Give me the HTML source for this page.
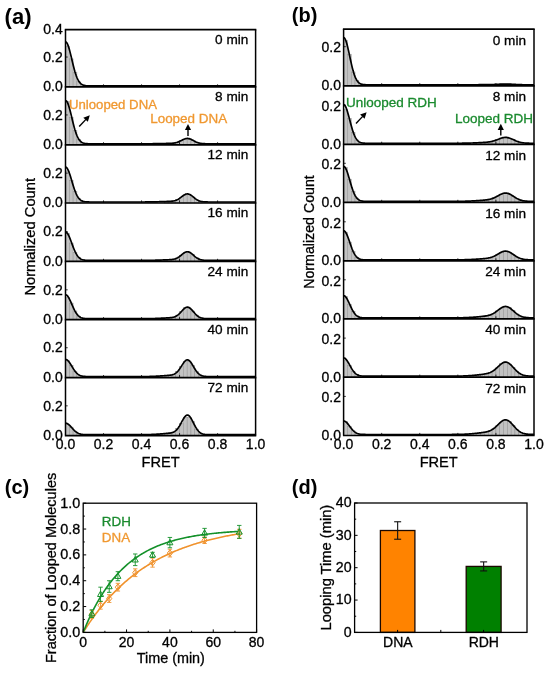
<!DOCTYPE html>
<html><head><meta charset="utf-8"><title>Figure</title>
<style>
html,body{margin:0;padding:0;background:#fff;}
body{width:550px;height:673px;overflow:hidden;}
svg{display:block;font-family:"Liberation Sans", sans-serif;will-change:transform;}
</style></head><body>
<svg width="550" height="673" viewBox="0 0 550 673">
<rect width="550" height="673" fill="#fff"/>
<g fill="#c2c2c2" stroke="#8c8c8c" stroke-width="0.45"><rect x="65.5" y="46.01" width="3.8" height="40.89"/><rect x="69.3" y="58.88" width="3.8" height="28.02"/><rect x="73.1" y="72.1" width="3.8" height="14.8"/><rect x="76.91" y="81.64" width="3.8" height="5.26"/><rect x="80.71" y="84.86" width="3.8" height="2.04"/></g>
<polyline fill="none" stroke="#000" stroke-width="1.7" stroke-linejoin="round" points="65.5,41.89 66.13,42.11 66.77,42.78 67.4,43.86 68.03,45.34 68.67,47.16 69.3,49.27 69.94,51.62 70.57,54.15 71.2,56.79 71.84,59.48 72.47,62.16 73.1,64.79 73.74,67.32 74.37,69.71 75,71.93 75.64,73.98 76.27,75.82 76.91,77.47 77.54,78.92 78.17,80.18 78.81,81.26 79.44,82.17 80.07,82.94 80.71,83.57 81.34,84.09 81.98,84.5 82.61,84.83 83.24,85.09 83.88,85.3 84.51,85.45 85.14,85.57 85.78,85.66 86.41,85.73 87.04,85.78 87.68,85.81 88.31,85.84 88.95,85.86 89.58,85.87 90.21,85.88 90.85,85.89 91.48,85.89 92.11,85.89 92.75,85.9 93.38,85.9 94.02,85.9 94.65,85.9 95.28,85.9 95.92,85.9 96.55,85.9 97.18,85.9 97.82,85.9 98.45,85.9 99.08,85.9 99.72,85.9 100.35,85.9 100.99,85.9 101.62,85.9 102.25,85.9 102.89,85.9 103.52,85.9 104.15,85.9 104.79,85.9 105.42,85.9 106.05,85.9 106.69,85.9 107.32,85.9 107.96,85.9 108.59,85.9 109.22,85.9 109.86,85.9 110.49,85.9 111.12,85.9 111.76,85.9 112.39,85.9 113.03,85.9 113.66,85.9 114.29,85.9 114.93,85.9 115.56,85.9 116.19,85.9 116.83,85.9 117.46,85.9 118.09,85.9 118.73,85.9 119.36,85.9 120,85.9 120.63,85.9 121.26,85.9 121.9,85.9 122.53,85.9 123.16,85.9 123.8,85.9 124.43,85.9 125.06,85.9 125.7,85.9 126.33,85.9 126.97,85.9 127.6,85.9 128.23,85.9 128.87,85.9 129.5,85.9 130.13,85.9 130.77,85.9 131.4,85.9 132.03,85.9 132.67,85.9 133.3,85.9 133.94,85.9 134.57,85.9 135.2,85.9 135.84,85.9 136.47,85.9 137.1,85.9 137.74,85.9 138.37,85.9 139.01,85.9 139.64,85.9 140.27,85.9 140.91,85.9 141.54,85.9 142.17,85.9 142.81,85.9 143.44,85.9 144.07,85.9 144.71,85.9 145.34,85.9 145.98,85.9 146.61,85.9 147.24,85.9 147.88,85.9 148.51,85.9 149.14,85.9 149.78,85.9 150.41,85.9 151.05,85.9 151.68,85.9 152.31,85.9 152.95,85.9 153.58,85.9 154.21,85.9 154.85,85.9 155.48,85.9 156.11,85.9 156.75,85.9 157.38,85.9 158.02,85.9 158.65,85.9 159.28,85.9 159.92,85.9 160.55,85.9 161.18,85.9 161.82,85.9 162.45,85.9 163.08,85.9 163.72,85.9 164.35,85.9 164.99,85.9 165.62,85.9 166.25,85.9 166.89,85.9 167.52,85.9 168.15,85.9 168.79,85.9 169.42,85.9 170.06,85.9 170.69,85.9 171.32,85.9 171.96,85.9 172.59,85.9 173.22,85.9 173.86,85.9 174.49,85.9 175.12,85.9 175.76,85.9 176.39,85.9 177.03,85.9 177.66,85.9 178.29,85.9 178.93,85.9 179.56,85.9 180.19,85.9 180.83,85.9 181.46,85.9 182.09,85.9 182.73,85.9 183.36,85.9 184,85.9 184.63,85.9 185.26,85.9 185.9,85.9 186.53,85.9 187.16,85.9 187.8,85.9 188.43,85.9 189.06,85.9 189.7,85.9 190.33,85.9 190.97,85.9 191.6,85.9 192.23,85.9 192.87,85.9 193.5,85.9 194.13,85.9 194.77,85.9 195.4,85.9 196.04,85.9 196.67,85.9 197.3,85.9 197.94,85.9 198.57,85.9 199.2,85.9 199.84,85.9 200.47,85.9 201.1,85.9 201.74,85.9 202.37,85.9 203.01,85.9 203.64,85.9 204.27,85.9 204.91,85.9 205.54,85.9 206.17,85.9 206.81,85.9 207.44,85.9 208.07,85.9 208.71,85.9 209.34,85.9 209.98,85.9 210.61,85.9 211.24,85.9 211.88,85.9 212.51,85.9 213.14,85.9 213.78,85.9 214.41,85.9 215.05,85.9 215.68,85.9 216.31,85.9 216.95,85.9 217.58,85.9 218.21,85.9 218.85,85.9 219.48,85.9 220.11,85.9 220.75,85.9 221.38,85.9 222.02,85.9 222.65,85.9 223.28,85.9 223.92,85.9 224.55,85.9 225.18,85.9 225.82,85.9 226.45,85.9 227.08,85.9 227.72,85.9 228.35,85.9 228.99,85.9 229.62,85.9 230.25,85.9 230.89,85.9 231.52,85.9 232.15,85.9 232.79,85.9 233.42,85.9 234.06,85.9 234.69,85.9 235.32,85.9 235.96,85.9 236.59,85.9 237.22,85.9 237.86,85.9 238.49,85.9 239.12,85.9 239.76,85.9 240.39,85.9 241.03,85.9 241.66,85.9 242.29,85.9 242.93,85.9 243.56,85.9 244.19,85.9 244.83,85.9 245.46,85.9 246.09,85.9 246.73,85.9 247.36,85.9 248,85.9 248.63,85.9 249.26,85.9 249.9,85.9 250.53,85.9 251.16,85.9 251.8,85.9 252.43,85.9 253.07,85.9 253.7,85.9 254.33,85.9 254.97,85.9 255.6,85.9"/>
<text x="248.3" y="44.1" font-size="13.6" text-anchor="end" fill="#000" stroke="#000" stroke-width="0.3">0 min</text>
<text x="62.7" y="91.2" font-size="14" text-anchor="end" fill="#000" stroke="#000" stroke-width="0.3">0.0</text>
<text x="62.7" y="61.74" font-size="14" text-anchor="end" fill="#000" stroke="#000" stroke-width="0.3">0.2</text>
<text x="62.7" y="33.8" font-size="14" text-anchor="end" fill="#000" stroke="#000" stroke-width="0.3">0.4</text>
<line x1="103.52" y1="86.5" x2="103.52" y2="84.3" stroke="#000" stroke-width="0.8"/>
<line x1="141.54" y1="86.5" x2="141.54" y2="84.3" stroke="#000" stroke-width="0.8"/>
<line x1="179.56" y1="86.5" x2="179.56" y2="84.3" stroke="#000" stroke-width="0.8"/>
<line x1="217.58" y1="86.5" x2="217.58" y2="84.3" stroke="#000" stroke-width="0.8"/>
<line x1="65.5" y1="57.04" x2="67.7" y2="57.04" stroke="#000" stroke-width="0.8"/>
<g fill="#c2c2c2" stroke="#8c8c8c" stroke-width="0.45"><rect x="65.5" y="101.31" width="3.8" height="43.49"/><rect x="69.3" y="117.33" width="3.8" height="27.47"/><rect x="73.1" y="130.61" width="3.8" height="14.19"/><rect x="76.91" y="139.23" width="3.8" height="5.57"/><rect x="80.71" y="142.83" width="3.8" height="1.97"/><rect x="168.15" y="143.35" width="3.8" height="1.45"/><rect x="171.96" y="143.11" width="3.8" height="1.69"/><rect x="175.76" y="142.21" width="3.8" height="2.59"/><rect x="179.56" y="140.69" width="3.8" height="4.11"/><rect x="183.36" y="139.16" width="3.8" height="5.64"/><rect x="187.16" y="139.09" width="3.8" height="5.71"/><rect x="190.97" y="140.27" width="3.8" height="4.53"/><rect x="194.77" y="142.31" width="3.8" height="2.49"/><rect x="198.57" y="143.34" width="3.8" height="1.46"/></g>
<polyline fill="none" stroke="#000" stroke-width="1.7" stroke-linejoin="round" points="65.5,100.51 66.13,100.73 66.77,101.38 67.4,102.45 68.03,103.9 68.67,105.69 69.3,107.77 69.94,110.08 70.57,112.57 71.2,115.16 71.84,117.81 72.47,120.45 73.1,123.03 73.74,125.52 74.37,127.87 75,130.06 75.64,132.07 76.27,133.89 76.91,135.51 77.54,136.94 78.17,138.17 78.81,139.24 79.44,140.14 80.07,140.89 80.71,141.51 81.34,142.01 81.98,142.42 82.61,142.75 83.24,143.01 83.88,143.21 84.51,143.36 85.14,143.48 85.78,143.57 86.41,143.63 87.04,143.68 87.68,143.72 88.31,143.74 88.95,143.76 89.58,143.77 90.21,143.78 90.85,143.79 91.48,143.79 92.11,143.79 92.75,143.8 93.38,143.8 94.02,143.8 94.65,143.8 95.28,143.8 95.92,143.8 96.55,143.8 97.18,143.8 97.82,143.8 98.45,143.8 99.08,143.8 99.72,143.8 100.35,143.8 100.99,143.8 101.62,143.8 102.25,143.8 102.89,143.8 103.52,143.8 104.15,143.8 104.79,143.8 105.42,143.8 106.05,143.8 106.69,143.8 107.32,143.8 107.96,143.8 108.59,143.8 109.22,143.8 109.86,143.8 110.49,143.8 111.12,143.8 111.76,143.8 112.39,143.8 113.03,143.8 113.66,143.8 114.29,143.8 114.93,143.8 115.56,143.8 116.19,143.8 116.83,143.8 117.46,143.8 118.09,143.8 118.73,143.8 119.36,143.8 120,143.8 120.63,143.8 121.26,143.8 121.9,143.8 122.53,143.8 123.16,143.8 123.8,143.8 124.43,143.8 125.06,143.8 125.7,143.8 126.33,143.8 126.97,143.8 127.6,143.8 128.23,143.8 128.87,143.8 129.5,143.8 130.13,143.8 130.77,143.8 131.4,143.8 132.03,143.8 132.67,143.8 133.3,143.8 133.94,143.8 134.57,143.8 135.2,143.8 135.84,143.8 136.47,143.8 137.1,143.8 137.74,143.8 138.37,143.8 139.01,143.8 139.64,143.8 140.27,143.79 140.91,143.79 141.54,143.79 142.17,143.79 142.81,143.79 143.44,143.79 144.07,143.79 144.71,143.78 145.34,143.78 145.98,143.78 146.61,143.78 147.24,143.77 147.88,143.77 148.51,143.77 149.14,143.76 149.78,143.76 150.41,143.75 151.05,143.74 151.68,143.74 152.31,143.73 152.95,143.72 153.58,143.72 154.21,143.71 154.85,143.7 155.48,143.69 156.11,143.68 156.75,143.67 157.38,143.66 158.02,143.64 158.65,143.63 159.28,143.62 159.92,143.61 160.55,143.59 161.18,143.58 161.82,143.56 162.45,143.55 163.08,143.54 163.72,143.52 164.35,143.51 164.99,143.49 165.62,143.48 166.25,143.46 166.89,143.45 167.52,143.43 168.15,143.41 168.79,143.4 169.42,143.37 170.06,143.35 170.69,143.32 171.32,143.28 171.96,143.24 172.59,143.19 173.22,143.12 173.86,143.04 174.49,142.95 175.12,142.83 175.76,142.7 176.39,142.54 177.03,142.36 177.66,142.15 178.29,141.92 178.93,141.66 179.56,141.39 180.19,141.09 180.83,140.78 181.46,140.46 182.09,140.13 182.73,139.82 183.36,139.52 184,139.24 184.63,138.99 185.26,138.78 185.9,138.62 186.53,138.52 187.16,138.46 187.8,138.47 188.43,138.54 189.06,138.66 189.7,138.84 190.33,139.06 190.97,139.33 191.6,139.62 192.23,139.94 192.87,140.28 193.5,140.62 194.13,140.97 194.77,141.3 195.4,141.62 196.04,141.92 196.67,142.19 197.3,142.45 197.94,142.67 198.57,142.87 199.2,143.04 199.84,143.19 200.47,143.31 201.1,143.41 201.74,143.5 202.37,143.57 203.01,143.62 203.64,143.66 204.27,143.7 204.91,143.72 205.54,143.74 206.17,143.76 206.81,143.77 207.44,143.78 208.07,143.78 208.71,143.79 209.34,143.79 209.98,143.79 210.61,143.8 211.24,143.8 211.88,143.8 212.51,143.8 213.14,143.8 213.78,143.8 214.41,143.8 215.05,143.8 215.68,143.8 216.31,143.8 216.95,143.8 217.58,143.8 218.21,143.8 218.85,143.8 219.48,143.8 220.11,143.8 220.75,143.8 221.38,143.8 222.02,143.8 222.65,143.8 223.28,143.8 223.92,143.8 224.55,143.8 225.18,143.8 225.82,143.8 226.45,143.8 227.08,143.8 227.72,143.8 228.35,143.8 228.99,143.8 229.62,143.8 230.25,143.8 230.89,143.8 231.52,143.8 232.15,143.8 232.79,143.8 233.42,143.8 234.06,143.8 234.69,143.8 235.32,143.8 235.96,143.8 236.59,143.8 237.22,143.8 237.86,143.8 238.49,143.8 239.12,143.8 239.76,143.8 240.39,143.8 241.03,143.8 241.66,143.8 242.29,143.8 242.93,143.8 243.56,143.8 244.19,143.8 244.83,143.8 245.46,143.8 246.09,143.8 246.73,143.8 247.36,143.8 248,143.8 248.63,143.8 249.26,143.8 249.9,143.8 250.53,143.8 251.16,143.8 251.8,143.8 252.43,143.8 253.07,143.8 253.7,143.8 254.33,143.8 254.97,143.8 255.6,143.8"/>
<text x="248.3" y="101" font-size="13.6" text-anchor="end" fill="#000" stroke="#000" stroke-width="0.3">8 min</text>
<text x="62.7" y="149.1" font-size="14" text-anchor="end" fill="#000" stroke="#000" stroke-width="0.3">0.0</text>
<text x="62.7" y="119.64" font-size="14" text-anchor="end" fill="#000" stroke="#000" stroke-width="0.3">0.2</text>
<line x1="103.52" y1="144.4" x2="103.52" y2="142.2" stroke="#000" stroke-width="0.8"/>
<line x1="141.54" y1="144.4" x2="141.54" y2="142.2" stroke="#000" stroke-width="0.8"/>
<line x1="179.56" y1="144.4" x2="179.56" y2="142.2" stroke="#000" stroke-width="0.8"/>
<line x1="217.58" y1="144.4" x2="217.58" y2="142.2" stroke="#000" stroke-width="0.8"/>
<line x1="65.5" y1="114.94" x2="67.7" y2="114.94" stroke="#000" stroke-width="0.8"/>
<g fill="#c2c2c2" stroke="#8c8c8c" stroke-width="0.45"><rect x="65.5" y="170.94" width="3.8" height="32.06"/><rect x="69.3" y="180.34" width="3.8" height="22.66"/><rect x="73.1" y="191.61" width="3.8" height="11.39"/><rect x="76.91" y="198.44" width="3.8" height="4.56"/><rect x="80.71" y="201.17" width="3.8" height="1.83"/><rect x="164.35" y="201.52" width="3.8" height="1.48"/><rect x="168.15" y="201.36" width="3.8" height="1.64"/><rect x="171.96" y="200.91" width="3.8" height="2.09"/><rect x="175.76" y="199.72" width="3.8" height="3.28"/><rect x="179.56" y="197.39" width="3.8" height="5.61"/><rect x="183.36" y="194.95" width="3.8" height="8.05"/><rect x="187.16" y="194.83" width="3.8" height="8.17"/><rect x="190.97" y="196.92" width="3.8" height="6.08"/><rect x="194.77" y="199.78" width="3.8" height="3.22"/><rect x="198.57" y="201.25" width="3.8" height="1.75"/></g>
<polyline fill="none" stroke="#000" stroke-width="1.7" stroke-linejoin="round" points="65.5,167.08 66.13,167.26 66.77,167.78 67.4,168.65 68.03,169.82 68.67,171.26 69.3,172.94 69.94,174.8 70.57,176.81 71.2,178.9 71.84,181.03 72.47,183.16 73.1,185.25 73.74,187.25 74.37,189.15 75,190.92 75.64,192.54 76.27,194.01 76.91,195.31 77.54,196.46 78.17,197.46 78.81,198.32 79.44,199.04 80.07,199.65 80.71,200.15 81.34,200.56 81.98,200.89 82.61,201.15 83.24,201.36 83.88,201.52 84.51,201.65 85.14,201.74 85.78,201.81 86.41,201.86 87.04,201.9 87.68,201.93 88.31,201.95 88.95,201.97 89.58,201.98 90.21,201.99 90.85,201.99 91.48,201.99 92.11,202 92.75,202 93.38,202 94.02,202 94.65,202 95.28,202 95.92,202 96.55,202 97.18,202 97.82,202 98.45,202 99.08,202 99.72,202 100.35,202 100.99,202 101.62,202 102.25,202 102.89,202 103.52,202 104.15,202 104.79,202 105.42,202 106.05,202 106.69,202 107.32,202 107.96,202 108.59,202 109.22,202 109.86,202 110.49,202 111.12,202 111.76,202 112.39,202 113.03,202 113.66,202 114.29,202 114.93,202 115.56,202 116.19,202 116.83,202 117.46,202 118.09,202 118.73,202 119.36,202 120,202 120.63,202 121.26,202 121.9,202 122.53,202 123.16,202 123.8,202 124.43,202 125.06,202 125.7,202 126.33,202 126.97,202 127.6,202 128.23,202 128.87,202 129.5,202 130.13,202 130.77,202 131.4,202 132.03,202 132.67,202 133.3,202 133.94,202 134.57,202 135.2,202 135.84,202 136.47,202 137.1,202 137.74,202 138.37,202 139.01,201.99 139.64,201.99 140.27,201.99 140.91,201.99 141.54,201.99 142.17,201.99 142.81,201.98 143.44,201.98 144.07,201.98 144.71,201.98 145.34,201.97 145.98,201.97 146.61,201.96 147.24,201.96 147.88,201.95 148.51,201.95 149.14,201.94 149.78,201.93 150.41,201.92 151.05,201.92 151.68,201.91 152.31,201.9 152.95,201.88 153.58,201.87 154.21,201.86 154.85,201.84 155.48,201.83 156.11,201.81 156.75,201.8 157.38,201.78 158.02,201.76 158.65,201.74 159.28,201.72 159.92,201.71 160.55,201.68 161.18,201.66 161.82,201.64 162.45,201.62 163.08,201.6 163.72,201.58 164.35,201.56 164.99,201.54 165.62,201.51 166.25,201.49 166.89,201.47 167.52,201.44 168.15,201.42 168.79,201.39 169.42,201.35 170.06,201.32 170.69,201.27 171.32,201.22 171.96,201.15 172.59,201.07 173.22,200.97 173.86,200.85 174.49,200.71 175.12,200.54 175.76,200.33 176.39,200.1 177.03,199.82 177.66,199.51 178.29,199.16 178.93,198.77 179.56,198.35 180.19,197.89 180.83,197.42 181.46,196.94 182.09,196.45 182.73,195.97 183.36,195.52 184,195.09 184.63,194.72 185.26,194.41 185.9,194.17 186.53,194 187.16,193.93 187.8,193.94 188.43,194.04 189.06,194.22 189.7,194.49 190.33,194.83 190.97,195.23 191.6,195.68 192.23,196.16 192.87,196.67 193.5,197.19 194.13,197.71 194.77,198.22 195.4,198.7 196.04,199.15 196.67,199.57 197.3,199.95 197.94,200.29 198.57,200.59 199.2,200.85 199.84,201.07 200.47,201.26 201.1,201.41 201.74,201.54 202.37,201.64 203.01,201.73 203.64,201.79 204.27,201.84 204.91,201.88 205.54,201.91 206.17,201.94 206.81,201.95 207.44,201.97 208.07,201.98 208.71,201.98 209.34,201.99 209.98,201.99 210.61,201.99 211.24,201.99 211.88,202 212.51,202 213.14,202 213.78,202 214.41,202 215.05,202 215.68,202 216.31,202 216.95,202 217.58,202 218.21,202 218.85,202 219.48,202 220.11,202 220.75,202 221.38,202 222.02,202 222.65,202 223.28,202 223.92,202 224.55,202 225.18,202 225.82,202 226.45,202 227.08,202 227.72,202 228.35,202 228.99,202 229.62,202 230.25,202 230.89,202 231.52,202 232.15,202 232.79,202 233.42,202 234.06,202 234.69,202 235.32,202 235.96,202 236.59,202 237.22,202 237.86,202 238.49,202 239.12,202 239.76,202 240.39,202 241.03,202 241.66,202 242.29,202 242.93,202 243.56,202 244.19,202 244.83,202 245.46,202 246.09,202 246.73,202 247.36,202 248,202 248.63,202 249.26,202 249.9,202 250.53,202 251.16,202 251.8,202 252.43,202 253.07,202 253.7,202 254.33,202 254.97,202 255.6,202"/>
<text x="248.3" y="158.9" font-size="13.6" text-anchor="end" fill="#000" stroke="#000" stroke-width="0.3">12 min</text>
<text x="62.7" y="207.3" font-size="14" text-anchor="end" fill="#000" stroke="#000" stroke-width="0.3">0.0</text>
<text x="62.7" y="177.84" font-size="14" text-anchor="end" fill="#000" stroke="#000" stroke-width="0.3">0.2</text>
<line x1="103.52" y1="202.6" x2="103.52" y2="200.4" stroke="#000" stroke-width="0.8"/>
<line x1="141.54" y1="202.6" x2="141.54" y2="200.4" stroke="#000" stroke-width="0.8"/>
<line x1="179.56" y1="202.6" x2="179.56" y2="200.4" stroke="#000" stroke-width="0.8"/>
<line x1="217.58" y1="202.6" x2="217.58" y2="200.4" stroke="#000" stroke-width="0.8"/>
<line x1="65.5" y1="173.14" x2="67.7" y2="173.14" stroke="#000" stroke-width="0.8"/>
<g fill="#c2c2c2" stroke="#8c8c8c" stroke-width="0.45"><rect x="65.5" y="233.13" width="3.8" height="28.27"/><rect x="69.3" y="243.01" width="3.8" height="18.39"/><rect x="73.1" y="252.21" width="3.8" height="9.19"/><rect x="76.91" y="257.35" width="3.8" height="4.05"/><rect x="80.71" y="259.73" width="3.8" height="1.67"/><rect x="160.55" y="260" width="3.8" height="1.4"/><rect x="164.35" y="259.89" width="3.8" height="1.51"/><rect x="168.15" y="259.69" width="3.8" height="1.71"/><rect x="171.96" y="259.23" width="3.8" height="2.17"/><rect x="175.76" y="257.96" width="3.8" height="3.44"/><rect x="179.56" y="255.45" width="3.8" height="5.95"/><rect x="183.36" y="252.73" width="3.8" height="8.67"/><rect x="187.16" y="252.56" width="3.8" height="8.84"/><rect x="190.97" y="254.73" width="3.8" height="6.67"/><rect x="194.77" y="257.73" width="3.8" height="3.67"/><rect x="198.57" y="259.63" width="3.8" height="1.77"/></g>
<polyline fill="none" stroke="#000" stroke-width="1.7" stroke-linejoin="round" points="65.5,232.12 66.13,232.26 66.77,232.69 67.4,233.39 68.03,234.33 68.67,235.5 69.3,236.86 69.94,238.37 70.57,240 71.2,241.69 71.84,243.42 72.47,245.14 73.1,246.83 73.74,248.46 74.37,249.99 75,251.43 75.64,252.74 76.27,253.93 76.91,254.98 77.54,255.92 78.17,256.72 78.81,257.42 79.44,258.01 80.07,258.5 80.71,258.9 81.34,259.23 81.98,259.5 82.61,259.71 83.24,259.88 83.88,260.01 84.51,260.11 85.14,260.19 85.78,260.25 86.41,260.29 87.04,260.32 87.68,260.35 88.31,260.36 88.95,260.37 89.58,260.38 90.21,260.39 90.85,260.39 91.48,260.39 92.11,260.4 92.75,260.4 93.38,260.4 94.02,260.4 94.65,260.4 95.28,260.4 95.92,260.4 96.55,260.4 97.18,260.4 97.82,260.4 98.45,260.4 99.08,260.4 99.72,260.4 100.35,260.4 100.99,260.4 101.62,260.4 102.25,260.4 102.89,260.4 103.52,260.4 104.15,260.4 104.79,260.4 105.42,260.4 106.05,260.4 106.69,260.4 107.32,260.4 107.96,260.4 108.59,260.4 109.22,260.4 109.86,260.4 110.49,260.4 111.12,260.4 111.76,260.4 112.39,260.4 113.03,260.4 113.66,260.4 114.29,260.4 114.93,260.4 115.56,260.4 116.19,260.4 116.83,260.4 117.46,260.4 118.09,260.4 118.73,260.4 119.36,260.4 120,260.4 120.63,260.4 121.26,260.4 121.9,260.4 122.53,260.4 123.16,260.4 123.8,260.4 124.43,260.4 125.06,260.4 125.7,260.4 126.33,260.4 126.97,260.4 127.6,260.4 128.23,260.4 128.87,260.4 129.5,260.4 130.13,260.4 130.77,260.4 131.4,260.4 132.03,260.4 132.67,260.4 133.3,260.4 133.94,260.4 134.57,260.4 135.2,260.4 135.84,260.4 136.47,260.4 137.1,260.4 137.74,260.4 138.37,260.39 139.01,260.39 139.64,260.39 140.27,260.39 140.91,260.39 141.54,260.39 142.17,260.39 142.81,260.38 143.44,260.38 144.07,260.38 144.71,260.37 145.34,260.37 145.98,260.37 146.61,260.36 147.24,260.36 147.88,260.35 148.51,260.34 149.14,260.34 149.78,260.33 150.41,260.32 151.05,260.31 151.68,260.3 152.31,260.29 152.95,260.28 153.58,260.26 154.21,260.25 154.85,260.23 155.48,260.22 156.11,260.2 156.75,260.18 157.38,260.17 158.02,260.15 158.65,260.13 159.28,260.11 159.92,260.08 160.55,260.06 161.18,260.04 161.82,260.02 162.45,259.99 163.08,259.97 163.72,259.95 164.35,259.93 164.99,259.9 165.62,259.88 166.25,259.85 166.89,259.83 167.52,259.8 168.15,259.77 168.79,259.74 169.42,259.71 170.06,259.67 170.69,259.62 171.32,259.56 171.96,259.49 172.59,259.4 173.22,259.3 173.86,259.17 174.49,259.02 175.12,258.83 175.76,258.62 176.39,258.36 177.03,258.06 177.66,257.73 178.29,257.35 178.93,256.94 179.56,256.48 180.19,256 180.83,255.5 181.46,254.98 182.09,254.45 182.73,253.94 183.36,253.45 184,253 184.63,252.6 185.26,252.27 185.9,252.01 186.53,251.83 187.16,251.75 187.8,251.76 188.43,251.87 189.06,252.07 189.7,252.35 190.33,252.72 190.97,253.14 191.6,253.63 192.23,254.15 192.87,254.69 193.5,255.25 194.13,255.8 194.77,256.35 195.4,256.86 196.04,257.35 196.67,257.8 197.3,258.2 197.94,258.57 198.57,258.89 199.2,259.17 199.84,259.4 200.47,259.6 201.1,259.77 201.74,259.91 202.37,260.02 203.01,260.11 203.64,260.18 204.27,260.23 204.91,260.28 205.54,260.31 206.17,260.33 206.81,260.35 207.44,260.36 208.07,260.37 208.71,260.38 209.34,260.39 209.98,260.39 210.61,260.39 211.24,260.39 211.88,260.4 212.51,260.4 213.14,260.4 213.78,260.4 214.41,260.4 215.05,260.4 215.68,260.4 216.31,260.4 216.95,260.4 217.58,260.4 218.21,260.4 218.85,260.4 219.48,260.4 220.11,260.4 220.75,260.4 221.38,260.4 222.02,260.4 222.65,260.4 223.28,260.4 223.92,260.4 224.55,260.4 225.18,260.4 225.82,260.4 226.45,260.4 227.08,260.4 227.72,260.4 228.35,260.4 228.99,260.4 229.62,260.4 230.25,260.4 230.89,260.4 231.52,260.4 232.15,260.4 232.79,260.4 233.42,260.4 234.06,260.4 234.69,260.4 235.32,260.4 235.96,260.4 236.59,260.4 237.22,260.4 237.86,260.4 238.49,260.4 239.12,260.4 239.76,260.4 240.39,260.4 241.03,260.4 241.66,260.4 242.29,260.4 242.93,260.4 243.56,260.4 244.19,260.4 244.83,260.4 245.46,260.4 246.09,260.4 246.73,260.4 247.36,260.4 248,260.4 248.63,260.4 249.26,260.4 249.9,260.4 250.53,260.4 251.16,260.4 251.8,260.4 252.43,260.4 253.07,260.4 253.7,260.4 254.33,260.4 254.97,260.4 255.6,260.4"/>
<text x="248.3" y="217.1" font-size="13.6" text-anchor="end" fill="#000" stroke="#000" stroke-width="0.3">16 min</text>
<text x="62.7" y="265.7" font-size="14" text-anchor="end" fill="#000" stroke="#000" stroke-width="0.3">0.0</text>
<text x="62.7" y="236.24" font-size="14" text-anchor="end" fill="#000" stroke="#000" stroke-width="0.3">0.2</text>
<line x1="103.52" y1="261" x2="103.52" y2="258.8" stroke="#000" stroke-width="0.8"/>
<line x1="141.54" y1="261" x2="141.54" y2="258.8" stroke="#000" stroke-width="0.8"/>
<line x1="179.56" y1="261" x2="179.56" y2="258.8" stroke="#000" stroke-width="0.8"/>
<line x1="217.58" y1="261" x2="217.58" y2="258.8" stroke="#000" stroke-width="0.8"/>
<line x1="65.5" y1="231.54" x2="67.7" y2="231.54" stroke="#000" stroke-width="0.8"/>
<g fill="#c2c2c2" stroke="#8c8c8c" stroke-width="0.45"><rect x="65.5" y="297.65" width="3.8" height="22.05"/><rect x="69.3" y="303.02" width="3.8" height="16.68"/><rect x="73.1" y="310.95" width="3.8" height="8.75"/><rect x="76.91" y="316.16" width="3.8" height="3.54"/><rect x="80.71" y="318.12" width="3.8" height="1.58"/><rect x="160.55" y="318.17" width="3.8" height="1.53"/><rect x="164.35" y="318.03" width="3.8" height="1.67"/><rect x="168.15" y="317.81" width="3.8" height="1.89"/><rect x="171.96" y="317.02" width="3.8" height="2.68"/><rect x="175.76" y="315.18" width="3.8" height="4.52"/><rect x="179.56" y="311.66" width="3.8" height="8.04"/><rect x="183.36" y="307.62" width="3.8" height="12.08"/><rect x="187.16" y="308.01" width="3.8" height="11.69"/><rect x="190.97" y="310.98" width="3.8" height="8.72"/><rect x="194.77" y="315.2" width="3.8" height="4.5"/><rect x="198.57" y="317.71" width="3.8" height="1.99"/></g>
<polyline fill="none" stroke="#000" stroke-width="1.7" stroke-linejoin="round" points="65.5,294.75 66.13,294.87 66.77,295.23 67.4,295.82 68.03,296.62 68.67,297.61 69.3,298.77 69.94,300.04 70.57,301.42 71.2,302.85 71.84,304.32 72.47,305.78 73.1,307.21 73.74,308.59 74.37,309.89 75,311.1 75.64,312.21 76.27,313.22 76.91,314.11 77.54,314.9 78.17,315.59 78.81,316.17 79.44,316.67 80.07,317.09 80.71,317.43 81.34,317.71 81.98,317.94 82.61,318.12 83.24,318.26 83.88,318.37 84.51,318.46 85.14,318.52 85.78,318.57 86.41,318.61 87.04,318.63 87.68,318.65 88.31,318.67 88.95,318.68 89.58,318.68 90.21,318.69 90.85,318.69 91.48,318.7 92.11,318.7 92.75,318.7 93.38,318.7 94.02,318.7 94.65,318.7 95.28,318.7 95.92,318.7 96.55,318.7 97.18,318.7 97.82,318.7 98.45,318.7 99.08,318.7 99.72,318.7 100.35,318.7 100.99,318.7 101.62,318.7 102.25,318.7 102.89,318.7 103.52,318.7 104.15,318.7 104.79,318.7 105.42,318.7 106.05,318.7 106.69,318.7 107.32,318.7 107.96,318.7 108.59,318.7 109.22,318.7 109.86,318.7 110.49,318.7 111.12,318.7 111.76,318.7 112.39,318.7 113.03,318.7 113.66,318.7 114.29,318.7 114.93,318.7 115.56,318.7 116.19,318.7 116.83,318.7 117.46,318.7 118.09,318.7 118.73,318.7 119.36,318.7 120,318.7 120.63,318.7 121.26,318.7 121.9,318.7 122.53,318.7 123.16,318.7 123.8,318.7 124.43,318.7 125.06,318.7 125.7,318.7 126.33,318.7 126.97,318.7 127.6,318.7 128.23,318.7 128.87,318.7 129.5,318.7 130.13,318.7 130.77,318.7 131.4,318.7 132.03,318.7 132.67,318.7 133.3,318.7 133.94,318.7 134.57,318.7 135.2,318.7 135.84,318.7 136.47,318.7 137.1,318.7 137.74,318.69 138.37,318.69 139.01,318.69 139.64,318.69 140.27,318.69 140.91,318.69 141.54,318.68 142.17,318.68 142.81,318.68 143.44,318.67 144.07,318.67 144.71,318.67 145.34,318.66 145.98,318.66 146.61,318.65 147.24,318.64 147.88,318.63 148.51,318.62 149.14,318.62 149.78,318.6 150.41,318.59 151.05,318.58 151.68,318.57 152.31,318.55 152.95,318.53 153.58,318.52 154.21,318.5 154.85,318.48 155.48,318.46 156.11,318.43 156.75,318.41 157.38,318.39 158.02,318.36 158.65,318.33 159.28,318.31 159.92,318.28 160.55,318.25 161.18,318.22 161.82,318.19 162.45,318.16 163.08,318.13 163.72,318.1 164.35,318.07 164.99,318.04 165.62,318 166.25,317.97 166.89,317.94 167.52,317.9 168.15,317.87 168.79,317.82 169.42,317.78 170.06,317.72 170.69,317.66 171.32,317.58 171.96,317.49 172.59,317.37 173.22,317.23 173.86,317.06 174.49,316.86 175.12,316.61 175.76,316.32 176.39,315.98 177.03,315.59 177.66,315.14 178.29,314.64 178.93,314.08 179.56,313.48 180.19,312.84 180.83,312.16 181.46,311.47 182.09,310.77 182.73,310.09 183.36,309.44 184,308.83 184.63,308.3 185.26,307.85 185.9,307.51 186.53,307.28 187.16,307.16 187.8,307.18 188.43,307.32 189.06,307.59 189.7,307.97 190.33,308.45 190.97,309.03 191.6,309.67 192.23,310.36 192.87,311.09 193.5,311.83 194.13,312.57 194.77,313.29 195.4,313.98 196.04,314.63 196.67,315.23 197.3,315.77 197.94,316.26 198.57,316.69 199.2,317.06 199.84,317.37 200.47,317.64 201.1,317.86 201.74,318.04 202.37,318.19 203.01,318.31 203.64,318.4 204.27,318.48 204.91,318.53 205.54,318.58 206.17,318.61 206.81,318.63 207.44,318.65 208.07,318.66 208.71,318.67 209.34,318.68 209.98,318.69 210.61,318.69 211.24,318.69 211.88,318.69 212.51,318.7 213.14,318.7 213.78,318.7 214.41,318.7 215.05,318.7 215.68,318.7 216.31,318.7 216.95,318.7 217.58,318.7 218.21,318.7 218.85,318.7 219.48,318.7 220.11,318.7 220.75,318.7 221.38,318.7 222.02,318.7 222.65,318.7 223.28,318.7 223.92,318.7 224.55,318.7 225.18,318.7 225.82,318.7 226.45,318.7 227.08,318.7 227.72,318.7 228.35,318.7 228.99,318.7 229.62,318.7 230.25,318.7 230.89,318.7 231.52,318.7 232.15,318.7 232.79,318.7 233.42,318.7 234.06,318.7 234.69,318.7 235.32,318.7 235.96,318.7 236.59,318.7 237.22,318.7 237.86,318.7 238.49,318.7 239.12,318.7 239.76,318.7 240.39,318.7 241.03,318.7 241.66,318.7 242.29,318.7 242.93,318.7 243.56,318.7 244.19,318.7 244.83,318.7 245.46,318.7 246.09,318.7 246.73,318.7 247.36,318.7 248,318.7 248.63,318.7 249.26,318.7 249.9,318.7 250.53,318.7 251.16,318.7 251.8,318.7 252.43,318.7 253.07,318.7 253.7,318.7 254.33,318.7 254.97,318.7 255.6,318.7"/>
<text x="248.3" y="275.5" font-size="13.6" text-anchor="end" fill="#000" stroke="#000" stroke-width="0.3">24 min</text>
<text x="62.7" y="324" font-size="14" text-anchor="end" fill="#000" stroke="#000" stroke-width="0.3">0.0</text>
<text x="62.7" y="294.54" font-size="14" text-anchor="end" fill="#000" stroke="#000" stroke-width="0.3">0.2</text>
<line x1="103.52" y1="319.3" x2="103.52" y2="317.1" stroke="#000" stroke-width="0.8"/>
<line x1="141.54" y1="319.3" x2="141.54" y2="317.1" stroke="#000" stroke-width="0.8"/>
<line x1="179.56" y1="319.3" x2="179.56" y2="317.1" stroke="#000" stroke-width="0.8"/>
<line x1="217.58" y1="319.3" x2="217.58" y2="317.1" stroke="#000" stroke-width="0.8"/>
<line x1="65.5" y1="289.84" x2="67.7" y2="289.84" stroke="#000" stroke-width="0.8"/>
<g fill="#c2c2c2" stroke="#8c8c8c" stroke-width="0.45"><rect x="65.5" y="360.69" width="3.8" height="16.91"/><rect x="69.3" y="365.54" width="3.8" height="12.06"/><rect x="73.1" y="371.3" width="3.8" height="6.3"/><rect x="76.91" y="374.95" width="3.8" height="2.65"/><rect x="80.71" y="376.2" width="3.8" height="1.4"/><rect x="156.75" y="376.06" width="3.8" height="1.54"/><rect x="160.55" y="375.85" width="3.8" height="1.75"/><rect x="164.35" y="375.56" width="3.8" height="2.04"/><rect x="168.15" y="375.23" width="3.8" height="2.37"/><rect x="171.96" y="374.29" width="3.8" height="3.31"/><rect x="175.76" y="371.47" width="3.8" height="6.13"/><rect x="179.56" y="366.49" width="3.8" height="11.11"/><rect x="183.36" y="361.28" width="3.8" height="16.32"/><rect x="187.16" y="361.02" width="3.8" height="16.58"/><rect x="190.97" y="365.31" width="3.8" height="12.29"/><rect x="194.77" y="371.6" width="3.8" height="6"/><rect x="198.57" y="375.04" width="3.8" height="2.56"/></g>
<polyline fill="none" stroke="#000" stroke-width="1.7" stroke-linejoin="round" points="65.5,359.43 66.13,359.52 66.77,359.78 67.4,360.2 68.03,360.77 68.67,361.48 69.3,362.31 69.94,363.23 70.57,364.21 71.2,365.24 71.84,366.29 72.47,367.34 73.1,368.36 73.74,369.35 74.37,370.28 75,371.15 75.64,371.95 76.27,372.67 76.91,373.31 77.54,373.88 78.17,374.37 78.81,374.79 79.44,375.15 80.07,375.44 80.71,375.69 81.34,375.89 81.98,376.05 82.61,376.18 83.24,376.29 83.88,376.36 84.51,376.43 85.14,376.47 85.78,376.51 86.41,376.53 87.04,376.55 87.68,376.57 88.31,376.58 88.95,376.58 89.58,376.59 90.21,376.59 90.85,376.6 91.48,376.6 92.11,376.6 92.75,376.6 93.38,376.6 94.02,376.6 94.65,376.6 95.28,376.6 95.92,376.6 96.55,376.6 97.18,376.6 97.82,376.6 98.45,376.6 99.08,376.6 99.72,376.6 100.35,376.6 100.99,376.6 101.62,376.6 102.25,376.6 102.89,376.6 103.52,376.6 104.15,376.6 104.79,376.6 105.42,376.6 106.05,376.6 106.69,376.6 107.32,376.6 107.96,376.6 108.59,376.6 109.22,376.6 109.86,376.6 110.49,376.6 111.12,376.6 111.76,376.6 112.39,376.6 113.03,376.6 113.66,376.6 114.29,376.6 114.93,376.6 115.56,376.6 116.19,376.6 116.83,376.6 117.46,376.6 118.09,376.6 118.73,376.6 119.36,376.6 120,376.6 120.63,376.6 121.26,376.6 121.9,376.6 122.53,376.6 123.16,376.6 123.8,376.6 124.43,376.6 125.06,376.6 125.7,376.6 126.33,376.6 126.97,376.6 127.6,376.6 128.23,376.6 128.87,376.6 129.5,376.6 130.13,376.6 130.77,376.6 131.4,376.6 132.03,376.6 132.67,376.6 133.3,376.6 133.94,376.6 134.57,376.6 135.2,376.6 135.84,376.6 136.47,376.59 137.1,376.59 137.74,376.59 138.37,376.59 139.01,376.59 139.64,376.59 140.27,376.58 140.91,376.58 141.54,376.58 142.17,376.57 142.81,376.57 143.44,376.56 144.07,376.56 144.71,376.55 145.34,376.54 145.98,376.54 146.61,376.53 147.24,376.52 147.88,376.5 148.51,376.49 149.14,376.48 149.78,376.46 150.41,376.44 151.05,376.43 151.68,376.41 152.31,376.38 152.95,376.36 153.58,376.33 154.21,376.31 154.85,376.28 155.48,376.25 156.11,376.22 156.75,376.18 157.38,376.15 158.02,376.11 158.65,376.07 159.28,376.03 159.92,375.99 160.55,375.95 161.18,375.9 161.82,375.86 162.45,375.82 163.08,375.77 163.72,375.73 164.35,375.68 164.99,375.64 165.62,375.59 166.25,375.54 166.89,375.5 167.52,375.45 168.15,375.39 168.79,375.33 169.42,375.26 170.06,375.18 170.69,375.09 171.32,374.98 171.96,374.84 172.59,374.68 173.22,374.47 173.86,374.23 174.49,373.93 175.12,373.57 175.76,373.15 176.39,372.66 177.03,372.09 177.66,371.44 178.29,370.71 178.93,369.9 179.56,369.03 180.19,368.1 180.83,367.12 181.46,366.11 182.09,365.1 182.73,364.11 183.36,363.17 184,362.3 184.63,361.52 185.26,360.87 185.9,360.37 186.53,360.03 187.16,359.87 187.8,359.9 188.43,360.1 189.06,360.49 189.7,361.04 190.33,361.74 190.97,362.57 191.6,363.5 192.23,364.51 192.87,365.57 193.5,366.64 194.13,367.72 194.77,368.76 195.4,369.76 196.04,370.7 196.67,371.57 197.3,372.36 197.94,373.06 198.57,373.68 199.2,374.22 199.84,374.68 200.47,375.06 201.1,375.38 201.74,375.65 202.37,375.86 203.01,376.04 203.64,376.17 204.27,376.28 204.91,376.36 205.54,376.42 206.17,376.47 206.81,376.5 207.44,376.53 208.07,376.55 208.71,376.56 209.34,376.57 209.98,376.58 210.61,376.59 211.24,376.59 211.88,376.59 212.51,376.59 213.14,376.6 213.78,376.6 214.41,376.6 215.05,376.6 215.68,376.6 216.31,376.6 216.95,376.6 217.58,376.6 218.21,376.6 218.85,376.6 219.48,376.6 220.11,376.6 220.75,376.6 221.38,376.6 222.02,376.6 222.65,376.6 223.28,376.6 223.92,376.6 224.55,376.6 225.18,376.6 225.82,376.6 226.45,376.6 227.08,376.6 227.72,376.6 228.35,376.6 228.99,376.6 229.62,376.6 230.25,376.6 230.89,376.6 231.52,376.6 232.15,376.6 232.79,376.6 233.42,376.6 234.06,376.6 234.69,376.6 235.32,376.6 235.96,376.6 236.59,376.6 237.22,376.6 237.86,376.6 238.49,376.6 239.12,376.6 239.76,376.6 240.39,376.6 241.03,376.6 241.66,376.6 242.29,376.6 242.93,376.6 243.56,376.6 244.19,376.6 244.83,376.6 245.46,376.6 246.09,376.6 246.73,376.6 247.36,376.6 248,376.6 248.63,376.6 249.26,376.6 249.9,376.6 250.53,376.6 251.16,376.6 251.8,376.6 252.43,376.6 253.07,376.6 253.7,376.6 254.33,376.6 254.97,376.6 255.6,376.6"/>
<text x="248.3" y="333.8" font-size="13.6" text-anchor="end" fill="#000" stroke="#000" stroke-width="0.3">40 min</text>
<text x="62.7" y="381.9" font-size="14" text-anchor="end" fill="#000" stroke="#000" stroke-width="0.3">0.0</text>
<text x="62.7" y="352.44" font-size="14" text-anchor="end" fill="#000" stroke="#000" stroke-width="0.3">0.2</text>
<line x1="103.52" y1="377.2" x2="103.52" y2="375" stroke="#000" stroke-width="0.8"/>
<line x1="141.54" y1="377.2" x2="141.54" y2="375" stroke="#000" stroke-width="0.8"/>
<line x1="179.56" y1="377.2" x2="179.56" y2="375" stroke="#000" stroke-width="0.8"/>
<line x1="217.58" y1="377.2" x2="217.58" y2="375" stroke="#000" stroke-width="0.8"/>
<line x1="65.5" y1="347.74" x2="67.7" y2="347.74" stroke="#000" stroke-width="0.8"/>
<g fill="#c2c2c2" stroke="#8c8c8c" stroke-width="0.45"><rect x="65.5" y="424.46" width="3.8" height="11.24"/><rect x="69.3" y="427.09" width="3.8" height="8.61"/><rect x="73.1" y="431.08" width="3.8" height="4.62"/><rect x="76.91" y="433.57" width="3.8" height="2.13"/><rect x="156.75" y="434.09" width="3.8" height="1.61"/><rect x="160.55" y="433.81" width="3.8" height="1.89"/><rect x="164.35" y="433.56" width="3.8" height="2.14"/><rect x="168.15" y="432.99" width="3.8" height="2.71"/><rect x="171.96" y="431.9" width="3.8" height="3.8"/><rect x="175.76" y="428.48" width="3.8" height="7.22"/><rect x="179.56" y="423.36" width="3.8" height="12.34"/><rect x="183.36" y="417.33" width="3.8" height="18.37"/><rect x="187.16" y="417.42" width="3.8" height="18.28"/><rect x="190.97" y="421.72" width="3.8" height="13.98"/><rect x="194.77" y="429.14" width="3.8" height="6.56"/><rect x="198.57" y="433.03" width="3.8" height="2.67"/></g>
<polyline fill="none" stroke="#000" stroke-width="1.7" stroke-linejoin="round" points="65.5,423.16 66.13,423.21 66.77,423.39 67.4,423.67 68.03,424.06 68.67,424.54 69.3,425.09 69.94,425.71 70.57,426.37 71.2,427.06 71.84,427.77 72.47,428.47 73.1,429.16 73.74,429.83 74.37,430.45 75,431.04 75.64,431.57 76.27,432.06 76.91,432.49 77.54,432.87 78.17,433.2 78.81,433.48 79.44,433.72 80.07,433.92 80.71,434.09 81.34,434.22 81.98,434.33 82.61,434.42 83.24,434.49 83.88,434.54 84.51,434.58 85.14,434.61 85.78,434.64 86.41,434.66 87.04,434.67 87.68,434.68 88.31,434.68 88.95,434.69 89.58,434.69 90.21,434.7 90.85,434.7 91.48,434.7 92.11,434.7 92.75,434.7 93.38,434.7 94.02,434.7 94.65,434.7 95.28,434.7 95.92,434.7 96.55,434.7 97.18,434.7 97.82,434.7 98.45,434.7 99.08,434.7 99.72,434.7 100.35,434.7 100.99,434.7 101.62,434.7 102.25,434.7 102.89,434.7 103.52,434.7 104.15,434.7 104.79,434.7 105.42,434.7 106.05,434.7 106.69,434.7 107.32,434.7 107.96,434.7 108.59,434.7 109.22,434.7 109.86,434.7 110.49,434.7 111.12,434.7 111.76,434.7 112.39,434.7 113.03,434.7 113.66,434.7 114.29,434.7 114.93,434.7 115.56,434.7 116.19,434.7 116.83,434.7 117.46,434.7 118.09,434.7 118.73,434.7 119.36,434.7 120,434.7 120.63,434.7 121.26,434.7 121.9,434.7 122.53,434.7 123.16,434.7 123.8,434.7 124.43,434.7 125.06,434.7 125.7,434.7 126.33,434.7 126.97,434.7 127.6,434.7 128.23,434.7 128.87,434.7 129.5,434.7 130.13,434.7 130.77,434.7 131.4,434.7 132.03,434.7 132.67,434.7 133.3,434.7 133.94,434.7 134.57,434.7 135.2,434.7 135.84,434.69 136.47,434.69 137.1,434.69 137.74,434.69 138.37,434.69 139.01,434.69 139.64,434.68 140.27,434.68 140.91,434.68 141.54,434.67 142.17,434.67 142.81,434.66 143.44,434.66 144.07,434.65 144.71,434.64 145.34,434.63 145.98,434.62 146.61,434.61 147.24,434.6 147.88,434.59 148.51,434.57 149.14,434.56 149.78,434.54 150.41,434.52 151.05,434.5 151.68,434.47 152.31,434.45 152.95,434.42 153.58,434.39 154.21,434.36 154.85,434.32 155.48,434.29 156.11,434.25 156.75,434.21 157.38,434.17 158.02,434.12 158.65,434.08 159.28,434.03 159.92,433.98 160.55,433.93 161.18,433.88 161.82,433.83 162.45,433.78 163.08,433.73 163.72,433.68 164.35,433.62 164.99,433.57 165.62,433.52 166.25,433.46 166.89,433.41 167.52,433.35 168.15,433.28 168.79,433.21 169.42,433.13 170.06,433.04 170.69,432.93 171.32,432.8 171.96,432.64 172.59,432.44 173.22,432.21 173.86,431.92 174.49,431.57 175.12,431.15 175.76,430.65 176.39,430.08 177.03,429.41 177.66,428.65 178.29,427.79 178.93,426.85 179.56,425.82 180.19,424.73 180.83,423.58 181.46,422.41 182.09,421.22 182.73,420.06 183.36,418.95 184,417.93 184.63,417.02 185.26,416.26 185.9,415.67 186.53,415.28 187.16,415.09 187.8,415.12 188.43,415.36 189.06,415.81 189.7,416.46 190.33,417.28 190.97,418.25 191.6,419.35 192.23,420.53 192.87,421.76 193.5,423.03 194.13,424.28 194.77,425.51 195.4,426.68 196.04,427.78 196.67,428.8 197.3,429.72 197.94,430.55 198.57,431.27 199.2,431.9 199.84,432.44 200.47,432.9 201.1,433.28 201.74,433.59 202.37,433.84 203.01,434.04 203.64,434.2 204.27,434.32 204.91,434.42 205.54,434.49 206.17,434.55 206.81,434.59 207.44,434.62 208.07,434.64 208.71,434.66 209.34,434.67 209.98,434.68 210.61,434.68 211.24,434.69 211.88,434.69 212.51,434.69 213.14,434.69 213.78,434.7 214.41,434.7 215.05,434.7 215.68,434.7 216.31,434.7 216.95,434.7 217.58,434.7 218.21,434.7 218.85,434.7 219.48,434.7 220.11,434.7 220.75,434.7 221.38,434.7 222.02,434.7 222.65,434.7 223.28,434.7 223.92,434.7 224.55,434.7 225.18,434.7 225.82,434.7 226.45,434.7 227.08,434.7 227.72,434.7 228.35,434.7 228.99,434.7 229.62,434.7 230.25,434.7 230.89,434.7 231.52,434.7 232.15,434.7 232.79,434.7 233.42,434.7 234.06,434.7 234.69,434.7 235.32,434.7 235.96,434.7 236.59,434.7 237.22,434.7 237.86,434.7 238.49,434.7 239.12,434.7 239.76,434.7 240.39,434.7 241.03,434.7 241.66,434.7 242.29,434.7 242.93,434.7 243.56,434.7 244.19,434.7 244.83,434.7 245.46,434.7 246.09,434.7 246.73,434.7 247.36,434.7 248,434.7 248.63,434.7 249.26,434.7 249.9,434.7 250.53,434.7 251.16,434.7 251.8,434.7 252.43,434.7 253.07,434.7 253.7,434.7 254.33,434.7 254.97,434.7 255.6,434.7"/>
<text x="248.3" y="391.7" font-size="13.6" text-anchor="end" fill="#000" stroke="#000" stroke-width="0.3">72 min</text>
<text x="62.7" y="440" font-size="14" text-anchor="end" fill="#000" stroke="#000" stroke-width="0.3">0.0</text>
<text x="62.7" y="410.54" font-size="14" text-anchor="end" fill="#000" stroke="#000" stroke-width="0.3">0.2</text>
<line x1="103.52" y1="435.3" x2="103.52" y2="433.1" stroke="#000" stroke-width="0.8"/>
<line x1="141.54" y1="435.3" x2="141.54" y2="433.1" stroke="#000" stroke-width="0.8"/>
<line x1="179.56" y1="435.3" x2="179.56" y2="433.1" stroke="#000" stroke-width="0.8"/>
<line x1="217.58" y1="435.3" x2="217.58" y2="433.1" stroke="#000" stroke-width="0.8"/>
<line x1="65.5" y1="405.84" x2="67.7" y2="405.84" stroke="#000" stroke-width="0.8"/>
<line x1="64.8" y1="29.6" x2="256.3" y2="29.6" stroke="#000" stroke-width="1.6"/>
<line x1="64.8" y1="86.9" x2="256.3" y2="86.9" stroke="#000" stroke-width="1.7"/>
<line x1="64.8" y1="144.8" x2="256.3" y2="144.8" stroke="#000" stroke-width="1.7"/>
<line x1="64.8" y1="203" x2="256.3" y2="203" stroke="#000" stroke-width="1.7"/>
<line x1="64.8" y1="261.4" x2="256.3" y2="261.4" stroke="#000" stroke-width="1.7"/>
<line x1="64.8" y1="319.7" x2="256.3" y2="319.7" stroke="#000" stroke-width="1.7"/>
<line x1="64.8" y1="377.6" x2="256.3" y2="377.6" stroke="#000" stroke-width="1.7"/>
<line x1="64.8" y1="435.7" x2="256.3" y2="435.7" stroke="#000" stroke-width="1.7"/>
<line x1="65.5" y1="29.6" x2="65.5" y2="435.3" stroke="#000" stroke-width="1.5"/>
<line x1="255.6" y1="29.6" x2="255.6" y2="435.3" stroke="#000" stroke-width="1.5"/>
<text x="65.5" y="449.1" font-size="14" text-anchor="middle" fill="#000" stroke="#000" stroke-width="0.3">0.0</text>
<text x="103.52" y="449.1" font-size="14" text-anchor="middle" fill="#000" stroke="#000" stroke-width="0.3">0.2</text>
<text x="141.54" y="449.1" font-size="14" text-anchor="middle" fill="#000" stroke="#000" stroke-width="0.3">0.4</text>
<text x="179.56" y="449.1" font-size="14" text-anchor="middle" fill="#000" stroke="#000" stroke-width="0.3">0.6</text>
<text x="217.58" y="449.1" font-size="14" text-anchor="middle" fill="#000" stroke="#000" stroke-width="0.3">0.8</text>
<text x="255.6" y="449.1" font-size="14" text-anchor="middle" fill="#000" stroke="#000" stroke-width="0.3">1.0</text>
<text x="160.6" y="466.8" font-size="14.6" text-anchor="middle" fill="#000" stroke="#000" stroke-width="0.3">FRET</text>
<g fill="#c2c2c2" stroke="#8c8c8c" stroke-width="0.45"><rect x="343.6" y="40.43" width="3.81" height="45.37"/><rect x="347.41" y="54.17" width="3.81" height="31.63"/><rect x="351.22" y="71.98" width="3.81" height="13.82"/><rect x="355.02" y="80.43" width="3.81" height="5.37"/><rect x="358.83" y="83.97" width="3.81" height="1.83"/><rect x="495.92" y="84.3" width="3.81" height="1.5"/><rect x="499.73" y="84.1" width="3.81" height="1.7"/><rect x="503.54" y="84.08" width="3.81" height="1.72"/><rect x="507.34" y="84.11" width="3.81" height="1.69"/><rect x="511.15" y="84.32" width="3.81" height="1.48"/></g>
<polyline fill="none" stroke="#000" stroke-width="1.7" stroke-linejoin="round" points="343.6,37.56 344.23,37.81 344.87,38.57 345.5,39.81 346.14,41.48 346.77,43.55 347.41,45.94 348.04,48.58 348.68,51.42 349.31,54.36 349.95,57.34 350.58,60.3 351.22,63.17 351.85,65.91 352.49,68.49 353.12,70.86 353.75,73.02 354.39,74.95 355.02,76.65 355.66,78.14 356.29,79.41 356.93,80.48 357.56,81.38 358.2,82.12 358.83,82.72 359.47,83.21 360.1,83.59 360.74,83.89 361.37,84.13 362.01,84.31 362.64,84.44 363.27,84.54 363.91,84.62 364.54,84.67 365.18,84.71 365.81,84.74 366.45,84.76 367.08,84.77 367.72,84.78 368.35,84.79 368.99,84.79 369.62,84.79 370.26,84.8 370.89,84.8 371.53,84.8 372.16,84.8 372.79,84.8 373.43,84.8 374.06,84.8 374.7,84.8 375.33,84.8 375.97,84.8 376.6,84.8 377.24,84.8 377.87,84.8 378.51,84.8 379.14,84.8 379.78,84.8 380.41,84.8 381.05,84.8 381.68,84.8 382.31,84.8 382.95,84.8 383.58,84.8 384.22,84.8 384.85,84.8 385.49,84.8 386.12,84.8 386.76,84.8 387.39,84.8 388.03,84.8 388.66,84.8 389.3,84.8 389.93,84.8 390.57,84.8 391.2,84.8 391.83,84.8 392.47,84.8 393.1,84.8 393.74,84.8 394.37,84.8 395.01,84.8 395.64,84.8 396.28,84.8 396.91,84.8 397.55,84.8 398.18,84.8 398.82,84.8 399.45,84.8 400.09,84.8 400.72,84.8 401.35,84.8 401.99,84.8 402.62,84.8 403.26,84.8 403.89,84.8 404.53,84.8 405.16,84.8 405.8,84.8 406.43,84.8 407.07,84.8 407.7,84.8 408.34,84.8 408.97,84.8 409.61,84.8 410.24,84.8 410.87,84.8 411.51,84.8 412.14,84.8 412.78,84.8 413.41,84.8 414.05,84.8 414.68,84.8 415.32,84.8 415.95,84.8 416.59,84.8 417.22,84.8 417.86,84.8 418.49,84.8 419.13,84.8 419.76,84.8 420.39,84.8 421.03,84.8 421.66,84.8 422.3,84.8 422.93,84.8 423.57,84.8 424.2,84.8 424.84,84.8 425.47,84.8 426.11,84.8 426.74,84.8 427.38,84.8 428.01,84.8 428.65,84.8 429.28,84.8 429.91,84.8 430.55,84.8 431.18,84.8 431.82,84.8 432.45,84.8 433.09,84.8 433.72,84.8 434.36,84.8 434.99,84.8 435.63,84.8 436.26,84.8 436.9,84.8 437.53,84.8 438.17,84.8 438.8,84.8 439.43,84.8 440.07,84.8 440.7,84.8 441.34,84.8 441.97,84.8 442.61,84.8 443.24,84.8 443.88,84.8 444.51,84.8 445.15,84.8 445.78,84.8 446.42,84.8 447.05,84.8 447.69,84.8 448.32,84.8 448.95,84.8 449.59,84.8 450.22,84.8 450.86,84.8 451.49,84.8 452.13,84.8 452.76,84.8 453.4,84.8 454.03,84.8 454.67,84.8 455.3,84.8 455.94,84.8 456.57,84.8 457.21,84.8 457.84,84.8 458.47,84.79 459.11,84.79 459.74,84.79 460.38,84.79 461.01,84.79 461.65,84.79 462.28,84.79 462.92,84.79 463.55,84.79 464.19,84.79 464.82,84.78 465.46,84.78 466.09,84.78 466.73,84.78 467.36,84.78 467.99,84.78 468.63,84.77 469.26,84.77 469.9,84.77 470.53,84.77 471.17,84.76 471.8,84.76 472.44,84.76 473.07,84.76 473.71,84.75 474.34,84.75 474.98,84.75 475.61,84.74 476.25,84.74 476.88,84.74 477.51,84.73 478.15,84.73 478.78,84.72 479.42,84.72 480.05,84.72 480.69,84.71 481.32,84.71 481.96,84.7 482.59,84.7 483.23,84.69 483.86,84.69 484.5,84.68 485.13,84.68 485.77,84.67 486.4,84.66 487.03,84.65 487.67,84.64 488.3,84.63 488.94,84.62 489.57,84.61 490.21,84.6 490.84,84.58 491.48,84.56 492.11,84.55 492.75,84.53 493.38,84.5 494.02,84.48 494.65,84.45 495.29,84.42 495.92,84.39 496.55,84.36 497.19,84.33 497.82,84.3 498.46,84.27 499.09,84.24 499.73,84.2 500.36,84.17 501,84.15 501.63,84.12 502.27,84.1 502.9,84.08 503.54,84.06 504.17,84.05 504.81,84.04 505.44,84.04 506.07,84.04 506.71,84.05 507.34,84.06 507.98,84.07 508.61,84.09 509.25,84.12 509.88,84.14 510.52,84.17 511.15,84.21 511.79,84.24 512.42,84.28 513.06,84.31 513.69,84.35 514.33,84.39 514.96,84.43 515.59,84.46 516.23,84.5 516.86,84.53 517.5,84.56 518.13,84.59 518.77,84.61 519.4,84.64 520.04,84.66 520.67,84.68 521.31,84.7 521.94,84.71 522.58,84.73 523.21,84.74 523.85,84.75 524.48,84.76 525.11,84.76 525.75,84.77 526.38,84.78 527.02,84.78 527.65,84.78 528.29,84.79 528.92,84.79 529.56,84.79 530.19,84.79 530.83,84.79 531.46,84.8 532.1,84.8 532.73,84.8 533.37,84.8 534,84.8"/>
<text x="526" y="45" font-size="13.6" text-anchor="end" fill="#000" stroke="#000" stroke-width="0.3">0 min</text>
<text x="341" y="90.1" font-size="14" text-anchor="end" fill="#000" stroke="#000" stroke-width="0.3">0.0</text>
<text x="341" y="52.4" font-size="14" text-anchor="end" fill="#000" stroke="#000" stroke-width="0.3">0.2</text>
<line x1="381.68" y1="85.4" x2="381.68" y2="83.2" stroke="#000" stroke-width="0.8"/>
<line x1="419.76" y1="85.4" x2="419.76" y2="83.2" stroke="#000" stroke-width="0.8"/>
<line x1="457.84" y1="85.4" x2="457.84" y2="83.2" stroke="#000" stroke-width="0.8"/>
<line x1="495.92" y1="85.4" x2="495.92" y2="83.2" stroke="#000" stroke-width="0.8"/>
<line x1="343.6" y1="46.7" x2="345.8" y2="46.7" stroke="#000" stroke-width="0.8"/>
<g fill="#c2c2c2" stroke="#8c8c8c" stroke-width="0.45"><rect x="343.6" y="109.47" width="3.81" height="34.83"/><rect x="347.41" y="118.41" width="3.81" height="25.89"/><rect x="351.22" y="132.57" width="3.81" height="11.73"/><rect x="355.02" y="140.01" width="3.81" height="4.29"/><rect x="358.83" y="142.62" width="3.81" height="1.68"/><rect x="473.07" y="142.9" width="3.81" height="1.4"/><rect x="476.88" y="142.75" width="3.81" height="1.55"/><rect x="480.69" y="142.52" width="3.81" height="1.78"/><rect x="484.5" y="142.26" width="3.81" height="2.04"/><rect x="488.3" y="141.73" width="3.81" height="2.57"/><rect x="492.11" y="140.83" width="3.81" height="3.47"/><rect x="495.92" y="139.44" width="3.81" height="4.86"/><rect x="499.73" y="137.95" width="3.81" height="6.35"/><rect x="503.54" y="137.65" width="3.81" height="6.65"/><rect x="507.34" y="138.27" width="3.81" height="6.03"/><rect x="511.15" y="139.43" width="3.81" height="4.87"/><rect x="514.96" y="141.35" width="3.81" height="2.95"/><rect x="518.77" y="142.37" width="3.81" height="1.93"/></g>
<polyline fill="none" stroke="#000" stroke-width="1.7" stroke-linejoin="round" points="343.6,104.63 344.23,104.84 344.87,105.46 345.5,106.47 346.14,107.84 346.77,109.53 347.41,111.49 348.04,113.66 348.68,115.97 349.31,118.38 349.95,120.82 350.58,123.24 351.22,125.59 351.85,127.84 352.49,129.95 353.12,131.89 353.75,133.66 354.39,135.24 355.02,136.63 355.66,137.84 356.29,138.89 356.93,139.77 357.56,140.5 358.2,141.11 358.83,141.6 359.47,142 360.1,142.31 360.74,142.56 361.37,142.75 362.01,142.9 362.64,143.01 363.27,143.09 363.91,143.15 364.54,143.19 365.18,143.23 365.81,143.25 366.45,143.27 367.08,143.28 367.72,143.28 368.35,143.29 368.99,143.29 369.62,143.3 370.26,143.3 370.89,143.3 371.53,143.3 372.16,143.3 372.79,143.3 373.43,143.3 374.06,143.3 374.7,143.3 375.33,143.3 375.97,143.3 376.6,143.3 377.24,143.3 377.87,143.3 378.51,143.3 379.14,143.3 379.78,143.3 380.41,143.3 381.05,143.3 381.68,143.3 382.31,143.3 382.95,143.3 383.58,143.3 384.22,143.3 384.85,143.3 385.49,143.3 386.12,143.3 386.76,143.3 387.39,143.3 388.03,143.3 388.66,143.3 389.3,143.3 389.93,143.3 390.57,143.3 391.2,143.3 391.83,143.3 392.47,143.3 393.1,143.3 393.74,143.3 394.37,143.3 395.01,143.3 395.64,143.3 396.28,143.3 396.91,143.3 397.55,143.3 398.18,143.3 398.82,143.3 399.45,143.3 400.09,143.3 400.72,143.3 401.35,143.3 401.99,143.3 402.62,143.3 403.26,143.3 403.89,143.3 404.53,143.3 405.16,143.3 405.8,143.3 406.43,143.3 407.07,143.3 407.7,143.3 408.34,143.3 408.97,143.3 409.61,143.3 410.24,143.3 410.87,143.3 411.51,143.3 412.14,143.3 412.78,143.3 413.41,143.3 414.05,143.3 414.68,143.3 415.32,143.3 415.95,143.3 416.59,143.3 417.22,143.3 417.86,143.3 418.49,143.3 419.13,143.3 419.76,143.3 420.39,143.3 421.03,143.3 421.66,143.3 422.3,143.3 422.93,143.3 423.57,143.3 424.2,143.3 424.84,143.3 425.47,143.3 426.11,143.3 426.74,143.3 427.38,143.3 428.01,143.3 428.65,143.3 429.28,143.3 429.91,143.3 430.55,143.3 431.18,143.3 431.82,143.3 432.45,143.3 433.09,143.3 433.72,143.3 434.36,143.3 434.99,143.3 435.63,143.3 436.26,143.3 436.9,143.3 437.53,143.3 438.17,143.3 438.8,143.3 439.43,143.3 440.07,143.3 440.7,143.3 441.34,143.3 441.97,143.3 442.61,143.3 443.24,143.3 443.88,143.3 444.51,143.3 445.15,143.3 445.78,143.3 446.42,143.3 447.05,143.3 447.69,143.3 448.32,143.3 448.95,143.29 449.59,143.29 450.22,143.29 450.86,143.29 451.49,143.29 452.13,143.29 452.76,143.29 453.4,143.29 454.03,143.28 454.67,143.28 455.3,143.28 455.94,143.28 456.57,143.27 457.21,143.27 457.84,143.26 458.47,143.26 459.11,143.26 459.74,143.25 460.38,143.24 461.01,143.24 461.65,143.23 462.28,143.22 462.92,143.21 463.55,143.2 464.19,143.19 464.82,143.18 465.46,143.17 466.09,143.16 466.73,143.14 467.36,143.13 467.99,143.11 468.63,143.1 469.26,143.08 469.9,143.06 470.53,143.04 471.17,143.02 471.8,143 472.44,142.98 473.07,142.95 473.71,142.93 474.34,142.9 474.98,142.88 475.61,142.85 476.25,142.82 476.88,142.8 477.51,142.77 478.15,142.74 478.78,142.71 479.42,142.68 480.05,142.65 480.69,142.61 481.32,142.58 481.96,142.54 482.59,142.51 483.23,142.47 483.86,142.43 484.5,142.39 485.13,142.34 485.77,142.29 486.4,142.23 487.03,142.17 487.67,142.1 488.3,142.02 488.94,141.93 489.57,141.84 490.21,141.73 490.84,141.61 491.48,141.48 492.11,141.33 492.75,141.17 493.38,140.99 494.02,140.8 494.65,140.6 495.29,140.39 495.92,140.16 496.55,139.92 497.19,139.68 497.82,139.43 498.46,139.18 499.09,138.93 499.73,138.69 500.36,138.45 501,138.23 501.63,138.03 502.27,137.85 502.9,137.7 503.54,137.57 504.17,137.48 504.81,137.42 505.44,137.39 506.07,137.41 506.71,137.46 507.34,137.54 507.98,137.66 508.61,137.82 509.25,138 509.88,138.21 510.52,138.45 511.15,138.7 511.79,138.97 512.42,139.25 513.06,139.54 513.69,139.83 514.33,140.12 514.96,140.4 515.59,140.68 516.23,140.94 516.86,141.19 517.5,141.43 518.13,141.65 518.77,141.86 519.4,142.04 520.04,142.21 520.67,142.37 521.31,142.5 521.94,142.62 522.58,142.73 523.21,142.82 523.85,142.9 524.48,142.97 525.11,143.03 525.75,143.07 526.38,143.12 527.02,143.15 527.65,143.18 528.29,143.2 528.92,143.22 529.56,143.24 530.19,143.25 530.83,143.26 531.46,143.27 532.1,143.27 532.73,143.28 533.37,143.28 534,143.29"/>
<text x="526" y="101.3" font-size="13.6" text-anchor="end" fill="#000" stroke="#000" stroke-width="0.3">8 min</text>
<text x="341" y="148.6" font-size="14" text-anchor="end" fill="#000" stroke="#000" stroke-width="0.3">0.0</text>
<text x="341" y="110.9" font-size="14" text-anchor="end" fill="#000" stroke="#000" stroke-width="0.3">0.2</text>
<line x1="381.68" y1="143.9" x2="381.68" y2="141.7" stroke="#000" stroke-width="0.8"/>
<line x1="419.76" y1="143.9" x2="419.76" y2="141.7" stroke="#000" stroke-width="0.8"/>
<line x1="457.84" y1="143.9" x2="457.84" y2="141.7" stroke="#000" stroke-width="0.8"/>
<line x1="495.92" y1="143.9" x2="495.92" y2="141.7" stroke="#000" stroke-width="0.8"/>
<line x1="343.6" y1="105.2" x2="345.8" y2="105.2" stroke="#000" stroke-width="0.8"/>
<g fill="#c2c2c2" stroke="#8c8c8c" stroke-width="0.45"><rect x="343.6" y="167.45" width="3.81" height="34.95"/><rect x="347.41" y="179.15" width="3.81" height="23.25"/><rect x="351.22" y="191.08" width="3.81" height="11.32"/><rect x="355.02" y="198.17" width="3.81" height="4.23"/><rect x="358.83" y="200.78" width="3.81" height="1.62"/><rect x="473.07" y="200.85" width="3.81" height="1.55"/><rect x="476.88" y="200.61" width="3.81" height="1.79"/><rect x="480.69" y="200.28" width="3.81" height="2.12"/><rect x="484.5" y="199.98" width="3.81" height="2.42"/><rect x="488.3" y="199.17" width="3.81" height="3.23"/><rect x="492.11" y="197.76" width="3.81" height="4.64"/><rect x="495.92" y="196.07" width="3.81" height="6.33"/><rect x="499.73" y="194.25" width="3.81" height="8.15"/><rect x="503.54" y="193.29" width="3.81" height="9.11"/><rect x="507.34" y="193.94" width="3.81" height="8.46"/><rect x="511.15" y="196.05" width="3.81" height="6.35"/><rect x="514.96" y="198.46" width="3.81" height="3.94"/><rect x="518.77" y="200.09" width="3.81" height="2.31"/><rect x="522.58" y="200.97" width="3.81" height="1.43"/></g>
<polyline fill="none" stroke="#000" stroke-width="1.7" stroke-linejoin="round" points="343.6,166.35 344.23,166.54 344.87,167.1 345.5,168.02 346.14,169.26 346.77,170.79 347.41,172.57 348.04,174.53 348.68,176.63 349.31,178.81 349.95,181.03 350.58,183.22 351.22,185.35 351.85,187.39 352.49,189.3 353.12,191.06 353.75,192.66 354.39,194.09 355.02,195.36 355.66,196.46 356.29,197.4 356.93,198.2 357.56,198.86 358.2,199.41 358.83,199.86 359.47,200.22 360.1,200.5 360.74,200.73 361.37,200.9 362.01,201.03 362.64,201.13 363.27,201.21 363.91,201.26 364.54,201.3 365.18,201.33 365.81,201.35 366.45,201.37 367.08,201.38 367.72,201.39 368.35,201.39 368.99,201.39 369.62,201.4 370.26,201.4 370.89,201.4 371.53,201.4 372.16,201.4 372.79,201.4 373.43,201.4 374.06,201.4 374.7,201.4 375.33,201.4 375.97,201.4 376.6,201.4 377.24,201.4 377.87,201.4 378.51,201.4 379.14,201.4 379.78,201.4 380.41,201.4 381.05,201.4 381.68,201.4 382.31,201.4 382.95,201.4 383.58,201.4 384.22,201.4 384.85,201.4 385.49,201.4 386.12,201.4 386.76,201.4 387.39,201.4 388.03,201.4 388.66,201.4 389.3,201.4 389.93,201.4 390.57,201.4 391.2,201.4 391.83,201.4 392.47,201.4 393.1,201.4 393.74,201.4 394.37,201.4 395.01,201.4 395.64,201.4 396.28,201.4 396.91,201.4 397.55,201.4 398.18,201.4 398.82,201.4 399.45,201.4 400.09,201.4 400.72,201.4 401.35,201.4 401.99,201.4 402.62,201.4 403.26,201.4 403.89,201.4 404.53,201.4 405.16,201.4 405.8,201.4 406.43,201.4 407.07,201.4 407.7,201.4 408.34,201.4 408.97,201.4 409.61,201.4 410.24,201.4 410.87,201.4 411.51,201.4 412.14,201.4 412.78,201.4 413.41,201.4 414.05,201.4 414.68,201.4 415.32,201.4 415.95,201.4 416.59,201.4 417.22,201.4 417.86,201.4 418.49,201.4 419.13,201.4 419.76,201.4 420.39,201.4 421.03,201.4 421.66,201.4 422.3,201.4 422.93,201.4 423.57,201.4 424.2,201.4 424.84,201.4 425.47,201.4 426.11,201.4 426.74,201.4 427.38,201.4 428.01,201.4 428.65,201.4 429.28,201.4 429.91,201.4 430.55,201.4 431.18,201.4 431.82,201.4 432.45,201.4 433.09,201.4 433.72,201.4 434.36,201.4 434.99,201.4 435.63,201.4 436.26,201.4 436.9,201.4 437.53,201.4 438.17,201.4 438.8,201.4 439.43,201.4 440.07,201.4 440.7,201.4 441.34,201.4 441.97,201.4 442.61,201.4 443.24,201.4 443.88,201.4 444.51,201.4 445.15,201.4 445.78,201.4 446.42,201.4 447.05,201.4 447.69,201.39 448.32,201.39 448.95,201.39 449.59,201.39 450.22,201.39 450.86,201.39 451.49,201.39 452.13,201.38 452.76,201.38 453.4,201.38 454.03,201.38 454.67,201.37 455.3,201.37 455.94,201.37 456.57,201.36 457.21,201.36 457.84,201.35 458.47,201.34 459.11,201.34 459.74,201.33 460.38,201.32 461.01,201.31 461.65,201.3 462.28,201.29 462.92,201.28 463.55,201.26 464.19,201.25 464.82,201.23 465.46,201.22 466.09,201.2 466.73,201.18 467.36,201.16 467.99,201.13 468.63,201.11 469.26,201.09 469.9,201.06 470.53,201.03 471.17,201 471.8,200.97 472.44,200.94 473.07,200.91 473.71,200.87 474.34,200.84 474.98,200.8 475.61,200.76 476.25,200.72 476.88,200.69 477.51,200.64 478.15,200.6 478.78,200.56 479.42,200.52 480.05,200.47 480.69,200.43 481.32,200.38 481.96,200.33 482.59,200.28 483.23,200.22 483.86,200.16 484.5,200.1 485.13,200.03 485.77,199.96 486.4,199.88 487.03,199.79 487.67,199.69 488.3,199.58 488.94,199.46 489.57,199.32 490.21,199.17 490.84,199 491.48,198.81 492.11,198.6 492.75,198.38 493.38,198.13 494.02,197.86 494.65,197.57 495.29,197.26 495.92,196.94 496.55,196.61 497.19,196.26 497.82,195.9 498.46,195.55 499.09,195.2 499.73,194.85 500.36,194.52 501,194.21 501.63,193.92 502.27,193.67 502.9,193.45 503.54,193.27 504.17,193.14 504.81,193.05 505.44,193.02 506.07,193.04 506.71,193.11 507.34,193.23 507.98,193.4 508.61,193.62 509.25,193.88 509.88,194.18 510.52,194.51 511.15,194.88 511.79,195.26 512.42,195.66 513.06,196.06 513.69,196.48 514.33,196.88 514.96,197.29 515.59,197.68 516.23,198.05 516.86,198.41 517.5,198.75 518.13,199.06 518.77,199.35 519.4,199.62 520.04,199.86 520.67,200.07 521.31,200.27 521.94,200.44 522.58,200.59 523.21,200.72 523.85,200.83 524.48,200.93 525.11,201.01 525.75,201.08 526.38,201.14 527.02,201.19 527.65,201.23 528.29,201.26 528.92,201.29 529.56,201.31 530.19,201.33 530.83,201.34 531.46,201.35 532.1,201.36 532.73,201.37 533.37,201.38 534,201.38"/>
<text x="526" y="159.8" font-size="13.6" text-anchor="end" fill="#000" stroke="#000" stroke-width="0.3">12 min</text>
<text x="341" y="206.7" font-size="14" text-anchor="end" fill="#000" stroke="#000" stroke-width="0.3">0.0</text>
<text x="341" y="169" font-size="14" text-anchor="end" fill="#000" stroke="#000" stroke-width="0.3">0.2</text>
<line x1="381.68" y1="202" x2="381.68" y2="199.8" stroke="#000" stroke-width="0.8"/>
<line x1="419.76" y1="202" x2="419.76" y2="199.8" stroke="#000" stroke-width="0.8"/>
<line x1="457.84" y1="202" x2="457.84" y2="199.8" stroke="#000" stroke-width="0.8"/>
<line x1="495.92" y1="202" x2="495.92" y2="199.8" stroke="#000" stroke-width="0.8"/>
<line x1="343.6" y1="163.3" x2="345.8" y2="163.3" stroke="#000" stroke-width="0.8"/>
<g fill="#c2c2c2" stroke="#8c8c8c" stroke-width="0.45"><rect x="343.6" y="232.17" width="3.81" height="28.73"/><rect x="347.41" y="242.12" width="3.81" height="18.78"/><rect x="351.22" y="251.49" width="3.81" height="9.41"/><rect x="355.02" y="257.47" width="3.81" height="3.43"/><rect x="358.83" y="259.39" width="3.81" height="1.51"/><rect x="469.26" y="259.5" width="3.81" height="1.4"/><rect x="473.07" y="259.26" width="3.81" height="1.64"/><rect x="476.88" y="259.03" width="3.81" height="1.87"/><rect x="480.69" y="258.8" width="3.81" height="2.1"/><rect x="484.5" y="258.28" width="3.81" height="2.62"/><rect x="488.3" y="257.64" width="3.81" height="3.26"/><rect x="492.11" y="256.52" width="3.81" height="4.38"/><rect x="495.92" y="254.67" width="3.81" height="6.23"/><rect x="499.73" y="252.32" width="3.81" height="8.58"/><rect x="503.54" y="251.45" width="3.81" height="9.45"/><rect x="507.34" y="252.46" width="3.81" height="8.44"/><rect x="511.15" y="254.73" width="3.81" height="6.17"/><rect x="514.96" y="256.93" width="3.81" height="3.97"/><rect x="518.77" y="258.59" width="3.81" height="2.31"/><rect x="522.58" y="259.4" width="3.81" height="1.5"/></g>
<polyline fill="none" stroke="#000" stroke-width="1.7" stroke-linejoin="round" points="343.6,230.75 344.23,230.91 344.87,231.38 345.5,232.14 346.14,233.18 346.77,234.45 347.41,235.92 348.04,237.56 348.68,239.3 349.31,241.12 349.95,242.96 350.58,244.78 351.22,246.56 351.85,248.25 352.49,249.84 353.12,251.3 353.75,252.63 354.39,253.82 355.02,254.87 355.66,255.79 356.29,256.57 356.93,257.24 357.56,257.79 358.2,258.25 358.83,258.62 359.47,258.92 360.1,259.16 360.74,259.34 361.37,259.49 362.01,259.6 362.64,259.68 363.27,259.74 363.91,259.79 364.54,259.82 365.18,259.84 365.81,259.86 366.45,259.87 367.08,259.88 367.72,259.89 368.35,259.89 368.99,259.9 369.62,259.9 370.26,259.9 370.89,259.9 371.53,259.9 372.16,259.9 372.79,259.9 373.43,259.9 374.06,259.9 374.7,259.9 375.33,259.9 375.97,259.9 376.6,259.9 377.24,259.9 377.87,259.9 378.51,259.9 379.14,259.9 379.78,259.9 380.41,259.9 381.05,259.9 381.68,259.9 382.31,259.9 382.95,259.9 383.58,259.9 384.22,259.9 384.85,259.9 385.49,259.9 386.12,259.9 386.76,259.9 387.39,259.9 388.03,259.9 388.66,259.9 389.3,259.9 389.93,259.9 390.57,259.9 391.2,259.9 391.83,259.9 392.47,259.9 393.1,259.9 393.74,259.9 394.37,259.9 395.01,259.9 395.64,259.9 396.28,259.9 396.91,259.9 397.55,259.9 398.18,259.9 398.82,259.9 399.45,259.9 400.09,259.9 400.72,259.9 401.35,259.9 401.99,259.9 402.62,259.9 403.26,259.9 403.89,259.9 404.53,259.9 405.16,259.9 405.8,259.9 406.43,259.9 407.07,259.9 407.7,259.9 408.34,259.9 408.97,259.9 409.61,259.9 410.24,259.9 410.87,259.9 411.51,259.9 412.14,259.9 412.78,259.9 413.41,259.9 414.05,259.9 414.68,259.9 415.32,259.9 415.95,259.9 416.59,259.9 417.22,259.9 417.86,259.9 418.49,259.9 419.13,259.9 419.76,259.9 420.39,259.9 421.03,259.9 421.66,259.9 422.3,259.9 422.93,259.9 423.57,259.9 424.2,259.9 424.84,259.9 425.47,259.9 426.11,259.9 426.74,259.9 427.38,259.9 428.01,259.9 428.65,259.9 429.28,259.9 429.91,259.9 430.55,259.9 431.18,259.9 431.82,259.9 432.45,259.9 433.09,259.9 433.72,259.9 434.36,259.9 434.99,259.9 435.63,259.9 436.26,259.9 436.9,259.9 437.53,259.9 438.17,259.9 438.8,259.9 439.43,259.9 440.07,259.9 440.7,259.9 441.34,259.9 441.97,259.9 442.61,259.9 443.24,259.9 443.88,259.9 444.51,259.9 445.15,259.9 445.78,259.9 446.42,259.9 447.05,259.9 447.69,259.89 448.32,259.89 448.95,259.89 449.59,259.89 450.22,259.89 450.86,259.89 451.49,259.89 452.13,259.88 452.76,259.88 453.4,259.88 454.03,259.88 454.67,259.87 455.3,259.87 455.94,259.86 456.57,259.86 457.21,259.85 457.84,259.85 458.47,259.84 459.11,259.83 459.74,259.83 460.38,259.82 461.01,259.81 461.65,259.8 462.28,259.78 462.92,259.77 463.55,259.76 464.19,259.74 464.82,259.72 465.46,259.71 466.09,259.69 466.73,259.67 467.36,259.65 467.99,259.62 468.63,259.6 469.26,259.57 469.9,259.54 470.53,259.52 471.17,259.49 471.8,259.45 472.44,259.42 473.07,259.39 473.71,259.35 474.34,259.31 474.98,259.27 475.61,259.23 476.25,259.19 476.88,259.15 477.51,259.11 478.15,259.07 478.78,259.02 479.42,258.98 480.05,258.93 480.69,258.88 481.32,258.83 481.96,258.78 482.59,258.73 483.23,258.67 483.86,258.61 484.5,258.54 485.13,258.47 485.77,258.4 486.4,258.31 487.03,258.22 487.67,258.12 488.3,258 488.94,257.87 489.57,257.73 490.21,257.57 490.84,257.39 491.48,257.19 492.11,256.98 492.75,256.74 493.38,256.48 494.02,256.2 494.65,255.9 495.29,255.58 495.92,255.24 496.55,254.89 497.19,254.52 497.82,254.16 498.46,253.78 499.09,253.41 499.73,253.05 500.36,252.71 501,252.38 501.63,252.08 502.27,251.81 502.9,251.59 503.54,251.4 504.17,251.26 504.81,251.17 505.44,251.14 506.07,251.16 506.71,251.23 507.34,251.36 507.98,251.54 508.61,251.77 509.25,252.04 509.88,252.35 510.52,252.7 511.15,253.08 511.79,253.48 512.42,253.9 513.06,254.32 513.69,254.75 514.33,255.18 514.96,255.6 515.59,256.01 516.23,256.4 516.86,256.78 517.5,257.13 518.13,257.46 518.77,257.76 519.4,258.04 520.04,258.29 520.67,258.51 521.31,258.72 521.94,258.89 522.58,259.05 523.21,259.19 523.85,259.31 524.48,259.41 525.11,259.49 525.75,259.57 526.38,259.63 527.02,259.68 527.65,259.72 528.29,259.75 528.92,259.78 529.56,259.81 530.19,259.82 530.83,259.84 531.46,259.85 532.1,259.86 532.73,259.87 533.37,259.88 534,259.88"/>
<text x="526" y="217.9" font-size="13.6" text-anchor="end" fill="#000" stroke="#000" stroke-width="0.3">16 min</text>
<text x="341" y="265.2" font-size="14" text-anchor="end" fill="#000" stroke="#000" stroke-width="0.3">0.0</text>
<text x="341" y="227.5" font-size="14" text-anchor="end" fill="#000" stroke="#000" stroke-width="0.3">0.2</text>
<line x1="381.68" y1="260.5" x2="381.68" y2="258.3" stroke="#000" stroke-width="0.8"/>
<line x1="419.76" y1="260.5" x2="419.76" y2="258.3" stroke="#000" stroke-width="0.8"/>
<line x1="457.84" y1="260.5" x2="457.84" y2="258.3" stroke="#000" stroke-width="0.8"/>
<line x1="495.92" y1="260.5" x2="495.92" y2="258.3" stroke="#000" stroke-width="0.8"/>
<line x1="343.6" y1="221.8" x2="345.8" y2="221.8" stroke="#000" stroke-width="0.8"/>
<g fill="#c2c2c2" stroke="#8c8c8c" stroke-width="0.45"><rect x="343.6" y="296.45" width="3.81" height="22.45"/><rect x="347.41" y="304.62" width="3.81" height="14.28"/><rect x="351.22" y="311.19" width="3.81" height="7.71"/><rect x="355.02" y="315.87" width="3.81" height="3.03"/><rect x="358.83" y="317.47" width="3.81" height="1.43"/><rect x="469.26" y="317.38" width="3.81" height="1.52"/><rect x="473.07" y="317.08" width="3.81" height="1.82"/><rect x="476.88" y="316.77" width="3.81" height="2.13"/><rect x="480.69" y="316.45" width="3.81" height="2.45"/><rect x="484.5" y="316" width="3.81" height="2.9"/><rect x="488.3" y="314.79" width="3.81" height="4.11"/><rect x="492.11" y="313.43" width="3.81" height="5.47"/><rect x="495.92" y="310.66" width="3.81" height="8.24"/><rect x="499.73" y="308.2" width="3.81" height="10.7"/><rect x="503.54" y="307.09" width="3.81" height="11.81"/><rect x="507.34" y="307.66" width="3.81" height="11.24"/><rect x="511.15" y="310.43" width="3.81" height="8.47"/><rect x="514.96" y="314.07" width="3.81" height="4.83"/><rect x="518.77" y="316.11" width="3.81" height="2.79"/><rect x="522.58" y="317.29" width="3.81" height="1.61"/></g>
<polyline fill="none" stroke="#000" stroke-width="1.7" stroke-linejoin="round" points="343.6,295.61 344.23,295.73 344.87,296.09 345.5,296.67 346.14,297.46 346.77,298.44 347.41,299.57 348.04,300.81 348.68,302.15 349.31,303.54 349.95,304.94 350.58,306.34 351.22,307.7 351.85,308.99 352.49,310.2 353.12,311.32 353.75,312.34 354.39,313.25 355.02,314.06 355.66,314.76 356.29,315.36 356.93,315.86 357.56,316.29 358.2,316.64 358.83,316.92 359.47,317.15 360.1,317.33 360.74,317.47 361.37,317.58 362.01,317.67 362.64,317.73 363.27,317.78 363.91,317.81 364.54,317.84 365.18,317.86 365.81,317.87 366.45,317.88 367.08,317.89 367.72,317.89 368.35,317.89 368.99,317.9 369.62,317.9 370.26,317.9 370.89,317.9 371.53,317.9 372.16,317.9 372.79,317.9 373.43,317.9 374.06,317.9 374.7,317.9 375.33,317.9 375.97,317.9 376.6,317.9 377.24,317.9 377.87,317.9 378.51,317.9 379.14,317.9 379.78,317.9 380.41,317.9 381.05,317.9 381.68,317.9 382.31,317.9 382.95,317.9 383.58,317.9 384.22,317.9 384.85,317.9 385.49,317.9 386.12,317.9 386.76,317.9 387.39,317.9 388.03,317.9 388.66,317.9 389.3,317.9 389.93,317.9 390.57,317.9 391.2,317.9 391.83,317.9 392.47,317.9 393.1,317.9 393.74,317.9 394.37,317.9 395.01,317.9 395.64,317.9 396.28,317.9 396.91,317.9 397.55,317.9 398.18,317.9 398.82,317.9 399.45,317.9 400.09,317.9 400.72,317.9 401.35,317.9 401.99,317.9 402.62,317.9 403.26,317.9 403.89,317.9 404.53,317.9 405.16,317.9 405.8,317.9 406.43,317.9 407.07,317.9 407.7,317.9 408.34,317.9 408.97,317.9 409.61,317.9 410.24,317.9 410.87,317.9 411.51,317.9 412.14,317.9 412.78,317.9 413.41,317.9 414.05,317.9 414.68,317.9 415.32,317.9 415.95,317.9 416.59,317.9 417.22,317.9 417.86,317.9 418.49,317.9 419.13,317.9 419.76,317.9 420.39,317.9 421.03,317.9 421.66,317.9 422.3,317.9 422.93,317.9 423.57,317.9 424.2,317.9 424.84,317.9 425.47,317.9 426.11,317.9 426.74,317.9 427.38,317.9 428.01,317.9 428.65,317.9 429.28,317.9 429.91,317.9 430.55,317.9 431.18,317.9 431.82,317.9 432.45,317.9 433.09,317.9 433.72,317.9 434.36,317.9 434.99,317.9 435.63,317.9 436.26,317.9 436.9,317.9 437.53,317.9 438.17,317.9 438.8,317.9 439.43,317.9 440.07,317.9 440.7,317.9 441.34,317.9 441.97,317.9 442.61,317.9 443.24,317.9 443.88,317.9 444.51,317.9 445.15,317.9 445.78,317.9 446.42,317.89 447.05,317.89 447.69,317.89 448.32,317.89 448.95,317.89 449.59,317.89 450.22,317.89 450.86,317.88 451.49,317.88 452.13,317.88 452.76,317.88 453.4,317.87 454.03,317.87 454.67,317.86 455.3,317.86 455.94,317.85 456.57,317.85 457.21,317.84 457.84,317.83 458.47,317.82 459.11,317.81 459.74,317.8 460.38,317.79 461.01,317.78 461.65,317.76 462.28,317.75 462.92,317.73 463.55,317.71 464.19,317.69 464.82,317.67 465.46,317.65 466.09,317.62 466.73,317.6 467.36,317.57 467.99,317.54 468.63,317.51 469.26,317.47 469.9,317.44 470.53,317.4 471.17,317.36 471.8,317.32 472.44,317.27 473.07,317.23 473.71,317.18 474.34,317.13 474.98,317.08 475.61,317.03 476.25,316.98 476.88,316.93 477.51,316.87 478.15,316.81 478.78,316.75 479.42,316.7 480.05,316.63 480.69,316.57 481.32,316.51 481.96,316.44 482.59,316.37 483.23,316.29 483.86,316.21 484.5,316.13 485.13,316.04 485.77,315.94 486.4,315.83 487.03,315.71 487.67,315.57 488.3,315.42 488.94,315.25 489.57,315.07 490.21,314.86 490.84,314.63 491.48,314.37 492.11,314.09 492.75,313.78 493.38,313.44 494.02,313.07 494.65,312.68 495.29,312.26 495.92,311.82 496.55,311.36 497.19,310.89 497.82,310.41 498.46,309.92 499.09,309.44 499.73,308.97 500.36,308.52 501,308.09 501.63,307.7 502.27,307.35 502.9,307.06 503.54,306.81 504.17,306.63 504.81,306.52 505.44,306.47 506.07,306.5 506.71,306.59 507.34,306.76 507.98,306.99 508.61,307.29 509.25,307.65 509.88,308.06 510.52,308.51 511.15,309 511.79,309.53 512.42,310.07 513.06,310.62 513.69,311.18 514.33,311.74 514.96,312.29 515.59,312.83 516.23,313.34 516.86,313.83 517.5,314.28 518.13,314.71 518.77,315.11 519.4,315.47 520.04,315.8 520.67,316.09 521.31,316.36 521.94,316.59 522.58,316.79 523.21,316.97 523.85,317.12 524.48,317.26 525.11,317.37 525.75,317.46 526.38,317.54 527.02,317.61 527.65,317.66 528.29,317.71 528.92,317.75 529.56,317.78 530.19,317.8 530.83,317.82 531.46,317.84 532.1,317.85 532.73,317.86 533.37,317.87 534,317.87"/>
<text x="526" y="276.4" font-size="13.6" text-anchor="end" fill="#000" stroke="#000" stroke-width="0.3">24 min</text>
<text x="341" y="323.2" font-size="14" text-anchor="end" fill="#000" stroke="#000" stroke-width="0.3">0.0</text>
<text x="341" y="285.5" font-size="14" text-anchor="end" fill="#000" stroke="#000" stroke-width="0.3">0.2</text>
<line x1="381.68" y1="318.5" x2="381.68" y2="316.3" stroke="#000" stroke-width="0.8"/>
<line x1="419.76" y1="318.5" x2="419.76" y2="316.3" stroke="#000" stroke-width="0.8"/>
<line x1="457.84" y1="318.5" x2="457.84" y2="316.3" stroke="#000" stroke-width="0.8"/>
<line x1="495.92" y1="318.5" x2="495.92" y2="316.3" stroke="#000" stroke-width="0.8"/>
<line x1="343.6" y1="279.8" x2="345.8" y2="279.8" stroke="#000" stroke-width="0.8"/>
<g fill="#c2c2c2" stroke="#8c8c8c" stroke-width="0.45"><rect x="343.6" y="360" width="3.81" height="17.2"/><rect x="347.41" y="365.25" width="3.81" height="11.95"/><rect x="351.22" y="371.16" width="3.81" height="6.04"/><rect x="355.02" y="374.5" width="3.81" height="2.7"/><rect x="469.26" y="375.57" width="3.81" height="1.63"/><rect x="473.07" y="375.24" width="3.81" height="1.96"/><rect x="476.88" y="374.84" width="3.81" height="2.36"/><rect x="480.69" y="374.26" width="3.81" height="2.94"/><rect x="484.5" y="373.61" width="3.81" height="3.59"/><rect x="488.3" y="372.39" width="3.81" height="4.81"/><rect x="492.11" y="370.76" width="3.81" height="6.44"/><rect x="495.92" y="367.75" width="3.81" height="9.45"/><rect x="499.73" y="363.68" width="3.81" height="13.52"/><rect x="503.54" y="361.86" width="3.81" height="15.34"/><rect x="507.34" y="363.97" width="3.81" height="13.23"/><rect x="511.15" y="367.4" width="3.81" height="9.8"/><rect x="514.96" y="371.63" width="3.81" height="5.57"/><rect x="518.77" y="374.07" width="3.81" height="3.13"/><rect x="522.58" y="375.39" width="3.81" height="1.81"/></g>
<polyline fill="none" stroke="#000" stroke-width="1.7" stroke-linejoin="round" points="343.6,357.91 344.23,358.01 344.87,358.3 345.5,358.78 346.14,359.43 346.77,360.23 347.41,361.16 348.04,362.18 348.68,363.28 349.31,364.42 349.95,365.57 350.58,366.71 351.22,367.83 351.85,368.89 352.49,369.89 353.12,370.8 353.75,371.64 354.39,372.39 355.02,373.05 355.66,373.62 356.29,374.11 356.93,374.53 357.56,374.88 358.2,375.16 358.83,375.4 359.47,375.58 360.1,375.73 360.74,375.85 361.37,375.94 362.01,376.01 362.64,376.06 363.27,376.1 363.91,376.13 364.54,376.15 365.18,376.17 365.81,376.18 366.45,376.18 367.08,376.19 367.72,376.19 368.35,376.2 368.99,376.2 369.62,376.2 370.26,376.2 370.89,376.2 371.53,376.2 372.16,376.2 372.79,376.2 373.43,376.2 374.06,376.2 374.7,376.2 375.33,376.2 375.97,376.2 376.6,376.2 377.24,376.2 377.87,376.2 378.51,376.2 379.14,376.2 379.78,376.2 380.41,376.2 381.05,376.2 381.68,376.2 382.31,376.2 382.95,376.2 383.58,376.2 384.22,376.2 384.85,376.2 385.49,376.2 386.12,376.2 386.76,376.2 387.39,376.2 388.03,376.2 388.66,376.2 389.3,376.2 389.93,376.2 390.57,376.2 391.2,376.2 391.83,376.2 392.47,376.2 393.1,376.2 393.74,376.2 394.37,376.2 395.01,376.2 395.64,376.2 396.28,376.2 396.91,376.2 397.55,376.2 398.18,376.2 398.82,376.2 399.45,376.2 400.09,376.2 400.72,376.2 401.35,376.2 401.99,376.2 402.62,376.2 403.26,376.2 403.89,376.2 404.53,376.2 405.16,376.2 405.8,376.2 406.43,376.2 407.07,376.2 407.7,376.2 408.34,376.2 408.97,376.2 409.61,376.2 410.24,376.2 410.87,376.2 411.51,376.2 412.14,376.2 412.78,376.2 413.41,376.2 414.05,376.2 414.68,376.2 415.32,376.2 415.95,376.2 416.59,376.2 417.22,376.2 417.86,376.2 418.49,376.2 419.13,376.2 419.76,376.2 420.39,376.2 421.03,376.2 421.66,376.2 422.3,376.2 422.93,376.2 423.57,376.2 424.2,376.2 424.84,376.2 425.47,376.2 426.11,376.2 426.74,376.2 427.38,376.2 428.01,376.2 428.65,376.2 429.28,376.2 429.91,376.2 430.55,376.2 431.18,376.2 431.82,376.2 432.45,376.2 433.09,376.2 433.72,376.2 434.36,376.2 434.99,376.2 435.63,376.2 436.26,376.2 436.9,376.2 437.53,376.2 438.17,376.2 438.8,376.2 439.43,376.2 440.07,376.2 440.7,376.2 441.34,376.2 441.97,376.2 442.61,376.2 443.24,376.2 443.88,376.2 444.51,376.2 445.15,376.2 445.78,376.19 446.42,376.19 447.05,376.19 447.69,376.19 448.32,376.19 448.95,376.19 449.59,376.19 450.22,376.18 450.86,376.18 451.49,376.18 452.13,376.17 452.76,376.17 453.4,376.17 454.03,376.16 454.67,376.16 455.3,376.15 455.94,376.14 456.57,376.13 457.21,376.13 457.84,376.12 458.47,376.11 459.11,376.09 459.74,376.08 460.38,376.07 461.01,376.05 461.65,376.03 462.28,376.01 462.92,375.99 463.55,375.97 464.19,375.94 464.82,375.92 465.46,375.89 466.09,375.86 466.73,375.83 467.36,375.79 467.99,375.75 468.63,375.71 469.26,375.67 469.9,375.63 470.53,375.58 471.17,375.53 471.8,375.48 472.44,375.43 473.07,375.37 473.71,375.31 474.34,375.25 474.98,375.19 475.61,375.13 476.25,375.06 476.88,375 477.51,374.93 478.15,374.86 478.78,374.79 479.42,374.71 480.05,374.64 480.69,374.56 481.32,374.48 481.96,374.4 482.59,374.31 483.23,374.22 483.86,374.12 484.5,374.02 485.13,373.9 485.77,373.78 486.4,373.64 487.03,373.5 487.67,373.33 488.3,373.14 488.94,372.94 489.57,372.71 490.21,372.45 490.84,372.16 491.48,371.85 492.11,371.5 492.75,371.11 493.38,370.7 494.02,370.24 494.65,369.76 495.29,369.24 495.92,368.7 496.55,368.14 497.19,367.55 497.82,366.96 498.46,366.36 499.09,365.77 499.73,365.19 500.36,364.63 501,364.1 501.63,363.62 502.27,363.19 502.9,362.82 503.54,362.53 504.17,362.3 504.81,362.16 505.44,362.1 506.07,362.13 506.71,362.25 507.34,362.46 507.98,362.75 508.61,363.12 509.25,363.56 509.88,364.06 510.52,364.62 511.15,365.23 511.79,365.87 512.42,366.54 513.06,367.23 513.69,367.92 514.33,368.61 514.96,369.28 515.59,369.94 516.23,370.57 516.86,371.17 517.5,371.74 518.13,372.27 518.77,372.76 519.4,373.2 520.04,373.61 520.67,373.97 521.31,374.3 521.94,374.58 522.58,374.84 523.21,375.05 523.85,375.24 524.48,375.41 525.11,375.54 525.75,375.66 526.38,375.76 527.02,375.84 527.65,375.91 528.29,375.97 528.92,376.01 529.56,376.05 530.19,376.08 530.83,376.1 531.46,376.12 532.1,376.14 532.73,376.15 533.37,376.16 534,376.17"/>
<text x="526" y="334.4" font-size="13.6" text-anchor="end" fill="#000" stroke="#000" stroke-width="0.3">40 min</text>
<text x="341" y="381.5" font-size="14" text-anchor="end" fill="#000" stroke="#000" stroke-width="0.3">0.0</text>
<text x="341" y="343.8" font-size="14" text-anchor="end" fill="#000" stroke="#000" stroke-width="0.3">0.2</text>
<line x1="381.68" y1="376.8" x2="381.68" y2="374.6" stroke="#000" stroke-width="0.8"/>
<line x1="419.76" y1="376.8" x2="419.76" y2="374.6" stroke="#000" stroke-width="0.8"/>
<line x1="457.84" y1="376.8" x2="457.84" y2="374.6" stroke="#000" stroke-width="0.8"/>
<line x1="495.92" y1="376.8" x2="495.92" y2="374.6" stroke="#000" stroke-width="0.8"/>
<line x1="343.6" y1="338.1" x2="345.8" y2="338.1" stroke="#000" stroke-width="0.8"/>
<g fill="#c2c2c2" stroke="#8c8c8c" stroke-width="0.45"><rect x="343.6" y="421.28" width="3.81" height="14.22"/><rect x="347.41" y="426.31" width="3.81" height="9.19"/><rect x="351.22" y="430.82" width="3.81" height="4.68"/><rect x="355.02" y="433.35" width="3.81" height="2.15"/><rect x="465.46" y="434.06" width="3.81" height="1.44"/><rect x="469.26" y="433.81" width="3.81" height="1.69"/><rect x="473.07" y="433.44" width="3.81" height="2.06"/><rect x="476.88" y="433.08" width="3.81" height="2.42"/><rect x="480.69" y="432.66" width="3.81" height="2.84"/><rect x="484.5" y="432" width="3.81" height="3.5"/><rect x="488.3" y="430.5" width="3.81" height="5"/><rect x="492.11" y="428.34" width="3.81" height="7.16"/><rect x="495.92" y="425.39" width="3.81" height="10.11"/><rect x="499.73" y="422.56" width="3.81" height="12.94"/><rect x="503.54" y="420.27" width="3.81" height="15.23"/><rect x="507.34" y="421.46" width="3.81" height="14.04"/><rect x="511.15" y="425.53" width="3.81" height="9.97"/><rect x="514.96" y="429.58" width="3.81" height="5.92"/><rect x="518.77" y="432.2" width="3.81" height="3.3"/><rect x="522.58" y="433.66" width="3.81" height="1.84"/></g>
<polyline fill="none" stroke="#000" stroke-width="1.7" stroke-linejoin="round" points="343.6,420.97 344.23,421.05 344.87,421.26 345.5,421.62 346.14,422.1 346.77,422.69 347.41,423.37 348.04,424.13 348.68,424.94 349.31,425.78 349.95,426.64 350.58,427.48 351.22,428.31 351.85,429.09 352.49,429.83 353.12,430.51 353.75,431.13 354.39,431.68 355.02,432.17 355.66,432.59 356.29,432.96 356.93,433.26 357.56,433.52 358.2,433.73 358.83,433.91 359.47,434.04 360.1,434.15 360.74,434.24 361.37,434.31 362.01,434.36 362.64,434.4 363.27,434.43 363.91,434.45 364.54,434.46 365.18,434.47 365.81,434.48 366.45,434.49 367.08,434.49 367.72,434.49 368.35,434.5 368.99,434.5 369.62,434.5 370.26,434.5 370.89,434.5 371.53,434.5 372.16,434.5 372.79,434.5 373.43,434.5 374.06,434.5 374.7,434.5 375.33,434.5 375.97,434.5 376.6,434.5 377.24,434.5 377.87,434.5 378.51,434.5 379.14,434.5 379.78,434.5 380.41,434.5 381.05,434.5 381.68,434.5 382.31,434.5 382.95,434.5 383.58,434.5 384.22,434.5 384.85,434.5 385.49,434.5 386.12,434.5 386.76,434.5 387.39,434.5 388.03,434.5 388.66,434.5 389.3,434.5 389.93,434.5 390.57,434.5 391.2,434.5 391.83,434.5 392.47,434.5 393.1,434.5 393.74,434.5 394.37,434.5 395.01,434.5 395.64,434.5 396.28,434.5 396.91,434.5 397.55,434.5 398.18,434.5 398.82,434.5 399.45,434.5 400.09,434.5 400.72,434.5 401.35,434.5 401.99,434.5 402.62,434.5 403.26,434.5 403.89,434.5 404.53,434.5 405.16,434.5 405.8,434.5 406.43,434.5 407.07,434.5 407.7,434.5 408.34,434.5 408.97,434.5 409.61,434.5 410.24,434.5 410.87,434.5 411.51,434.5 412.14,434.5 412.78,434.5 413.41,434.5 414.05,434.5 414.68,434.5 415.32,434.5 415.95,434.5 416.59,434.5 417.22,434.5 417.86,434.5 418.49,434.5 419.13,434.5 419.76,434.5 420.39,434.5 421.03,434.5 421.66,434.5 422.3,434.5 422.93,434.5 423.57,434.5 424.2,434.5 424.84,434.5 425.47,434.5 426.11,434.5 426.74,434.5 427.38,434.5 428.01,434.5 428.65,434.5 429.28,434.5 429.91,434.5 430.55,434.5 431.18,434.5 431.82,434.5 432.45,434.5 433.09,434.5 433.72,434.5 434.36,434.5 434.99,434.5 435.63,434.5 436.26,434.5 436.9,434.5 437.53,434.5 438.17,434.5 438.8,434.5 439.43,434.5 440.07,434.5 440.7,434.5 441.34,434.5 441.97,434.5 442.61,434.5 443.24,434.5 443.88,434.5 444.51,434.5 445.15,434.5 445.78,434.49 446.42,434.49 447.05,434.49 447.69,434.49 448.32,434.49 448.95,434.49 449.59,434.49 450.22,434.48 450.86,434.48 451.49,434.48 452.13,434.47 452.76,434.47 453.4,434.46 454.03,434.46 454.67,434.45 455.3,434.45 455.94,434.44 456.57,434.43 457.21,434.42 457.84,434.41 458.47,434.4 459.11,434.39 459.74,434.37 460.38,434.36 461.01,434.34 461.65,434.32 462.28,434.3 462.92,434.28 463.55,434.26 464.19,434.23 464.82,434.21 465.46,434.18 466.09,434.15 466.73,434.11 467.36,434.07 467.99,434.04 468.63,433.99 469.26,433.95 469.9,433.9 470.53,433.86 471.17,433.81 471.8,433.75 472.44,433.7 473.07,433.64 473.71,433.58 474.34,433.52 474.98,433.45 475.61,433.39 476.25,433.32 476.88,433.25 477.51,433.18 478.15,433.1 478.78,433.03 479.42,432.95 480.05,432.88 480.69,432.79 481.32,432.71 481.96,432.62 482.59,432.53 483.23,432.44 483.86,432.34 484.5,432.23 485.13,432.11 485.77,431.98 486.4,431.84 487.03,431.69 487.67,431.51 488.3,431.32 488.94,431.11 489.57,430.87 490.21,430.6 490.84,430.3 491.48,429.97 492.11,429.61 492.75,429.21 493.38,428.77 494.02,428.3 494.65,427.8 495.29,427.26 495.92,426.7 496.55,426.11 497.19,425.5 497.82,424.88 498.46,424.26 499.09,423.64 499.73,423.04 500.36,422.46 501,421.91 501.63,421.41 502.27,420.97 502.9,420.58 503.54,420.27 504.17,420.04 504.81,419.89 505.44,419.83 506.07,419.86 506.71,419.99 507.34,420.2 507.98,420.5 508.61,420.88 509.25,421.34 509.88,421.87 510.52,422.45 511.15,423.08 511.79,423.75 512.42,424.45 513.06,425.16 513.69,425.88 514.33,426.6 514.96,427.3 515.59,427.99 516.23,428.65 516.86,429.27 517.5,429.86 518.13,430.41 518.77,430.92 519.4,431.38 520.04,431.8 520.67,432.18 521.31,432.52 521.94,432.82 522.58,433.08 523.21,433.31 523.85,433.51 524.48,433.67 525.11,433.82 525.75,433.94 526.38,434.04 527.02,434.13 527.65,434.2 528.29,434.26 528.92,434.3 529.56,434.34 530.19,434.37 530.83,434.4 531.46,434.42 532.1,434.44 532.73,434.45 533.37,434.46 534,434.47"/>
<text x="526" y="392.7" font-size="13.6" text-anchor="end" fill="#000" stroke="#000" stroke-width="0.3">72 min</text>
<text x="341" y="439.8" font-size="14" text-anchor="end" fill="#000" stroke="#000" stroke-width="0.3">0.0</text>
<text x="341" y="402.1" font-size="14" text-anchor="end" fill="#000" stroke="#000" stroke-width="0.3">0.2</text>
<line x1="381.68" y1="435.1" x2="381.68" y2="432.9" stroke="#000" stroke-width="0.8"/>
<line x1="419.76" y1="435.1" x2="419.76" y2="432.9" stroke="#000" stroke-width="0.8"/>
<line x1="457.84" y1="435.1" x2="457.84" y2="432.9" stroke="#000" stroke-width="0.8"/>
<line x1="495.92" y1="435.1" x2="495.92" y2="432.9" stroke="#000" stroke-width="0.8"/>
<line x1="343.6" y1="396.4" x2="345.8" y2="396.4" stroke="#000" stroke-width="0.8"/>
<line x1="342.9" y1="29.1" x2="534.7" y2="29.1" stroke="#000" stroke-width="1.6"/>
<line x1="342.9" y1="85.8" x2="534.7" y2="85.8" stroke="#000" stroke-width="1.7"/>
<line x1="342.9" y1="144.3" x2="534.7" y2="144.3" stroke="#000" stroke-width="1.7"/>
<line x1="342.9" y1="202.4" x2="534.7" y2="202.4" stroke="#000" stroke-width="1.7"/>
<line x1="342.9" y1="260.9" x2="534.7" y2="260.9" stroke="#000" stroke-width="1.7"/>
<line x1="342.9" y1="318.9" x2="534.7" y2="318.9" stroke="#000" stroke-width="1.7"/>
<line x1="342.9" y1="377.2" x2="534.7" y2="377.2" stroke="#000" stroke-width="1.7"/>
<line x1="342.9" y1="435.5" x2="534.7" y2="435.5" stroke="#000" stroke-width="1.7"/>
<line x1="343.6" y1="29.1" x2="343.6" y2="435.1" stroke="#000" stroke-width="1.5"/>
<line x1="534" y1="29.1" x2="534" y2="435.1" stroke="#000" stroke-width="1.5"/>
<text x="343.6" y="449.1" font-size="14" text-anchor="middle" fill="#000" stroke="#000" stroke-width="0.3">0.0</text>
<text x="381.68" y="449.1" font-size="14" text-anchor="middle" fill="#000" stroke="#000" stroke-width="0.3">0.2</text>
<text x="419.76" y="449.1" font-size="14" text-anchor="middle" fill="#000" stroke="#000" stroke-width="0.3">0.4</text>
<text x="457.84" y="449.1" font-size="14" text-anchor="middle" fill="#000" stroke="#000" stroke-width="0.3">0.6</text>
<text x="495.92" y="449.1" font-size="14" text-anchor="middle" fill="#000" stroke="#000" stroke-width="0.3">0.8</text>
<text x="534" y="449.1" font-size="14" text-anchor="middle" fill="#000" stroke="#000" stroke-width="0.3">1.0</text>
<text x="438.7" y="466.8" font-size="14.6" text-anchor="middle" fill="#000" stroke="#000" stroke-width="0.3">FRET</text>
<text x="69" y="108.8" font-size="13.2" text-anchor="start" fill="#F09830" stroke="#F09830" stroke-width="0.3">Unlooped DNA</text>
<text x="150.2" y="122.5" font-size="13.45" text-anchor="start" fill="#F09830" stroke="#F09830" stroke-width="0.3">Looped DNA</text>
<text x="346" y="107.4" font-size="13.5" text-anchor="start" fill="#1A8A2E" stroke="#1A8A2E" stroke-width="0.3">Unlooped RDH</text>
<text x="455" y="122.8" font-size="13.5" text-anchor="start" fill="#1A8A2E" stroke="#1A8A2E" stroke-width="0.3">Looped RDH</text>
<line x1="79.2" y1="126.6" x2="85.92" y2="119.37" stroke="#000" stroke-width="1.4"/>
<polygon fill="#000" points="89.8,115.2 87.85,121.85 83.31,117.63"/>
<line x1="188" y1="136" x2="188" y2="129.6" stroke="#000" stroke-width="1.4"/>
<polygon fill="#000" points="188,123.9 191.1,130.1 184.9,130.1"/>
<line x1="356" y1="123.5" x2="362.7" y2="116.36" stroke="#000" stroke-width="1.4"/>
<polygon fill="#000" points="366.6,112.2 364.62,118.84 360.1,114.6"/>
<line x1="500.8" y1="135.6" x2="500.8" y2="129.5" stroke="#000" stroke-width="1.4"/>
<polygon fill="#000" points="500.8,123.8 503.9,130 497.7,130"/>
<text x="34.6" y="236.8" font-size="14.7" text-anchor="middle" fill="#000" stroke="#000" stroke-width="0.3" transform="rotate(-90 34.6 236.8)">Normalized Count</text>
<text x="313.7" y="232" font-size="14.2" text-anchor="middle" fill="#000" stroke="#000" stroke-width="0.3" transform="rotate(-90 313.7 232)">Normalized Count</text>
<text x="4.6" y="24.3" font-size="22" text-anchor="start" fill="#000" font-weight="bold">(a)</text>
<text x="291.8" y="21.9" font-size="20" text-anchor="start" fill="#000" font-weight="bold">(b)</text>
<text x="4.8" y="494" font-size="20" text-anchor="start" fill="#000" font-weight="bold">(c)</text>
<text x="291.8" y="494" font-size="20" text-anchor="start" fill="#000" font-weight="bold">(d)</text>
<line x1="83.2" y1="632.4" x2="86.2" y2="632.4" stroke="#000" stroke-width="1.0"/>
<line x1="83.2" y1="619.48" x2="84.8" y2="619.48" stroke="#000" stroke-width="1.0"/>
<line x1="83.2" y1="606.56" x2="86.2" y2="606.56" stroke="#000" stroke-width="1.0"/>
<line x1="83.2" y1="593.64" x2="84.8" y2="593.64" stroke="#000" stroke-width="1.0"/>
<line x1="83.2" y1="580.72" x2="86.2" y2="580.72" stroke="#000" stroke-width="1.0"/>
<line x1="83.2" y1="567.8" x2="84.8" y2="567.8" stroke="#000" stroke-width="1.0"/>
<line x1="83.2" y1="554.88" x2="86.2" y2="554.88" stroke="#000" stroke-width="1.0"/>
<line x1="83.2" y1="541.96" x2="84.8" y2="541.96" stroke="#000" stroke-width="1.0"/>
<line x1="83.2" y1="529.04" x2="86.2" y2="529.04" stroke="#000" stroke-width="1.0"/>
<line x1="83.2" y1="516.12" x2="84.8" y2="516.12" stroke="#000" stroke-width="1.0"/>
<line x1="83.2" y1="503.2" x2="86.2" y2="503.2" stroke="#000" stroke-width="1.0"/>
<line x1="83.2" y1="632.4" x2="83.2" y2="629.4" stroke="#000" stroke-width="1.0"/>
<line x1="104.88" y1="632.4" x2="104.88" y2="630.8" stroke="#000" stroke-width="1.0"/>
<line x1="126.55" y1="632.4" x2="126.55" y2="629.4" stroke="#000" stroke-width="1.0"/>
<line x1="148.23" y1="632.4" x2="148.23" y2="630.8" stroke="#000" stroke-width="1.0"/>
<line x1="169.9" y1="632.4" x2="169.9" y2="629.4" stroke="#000" stroke-width="1.0"/>
<line x1="191.58" y1="632.4" x2="191.58" y2="630.8" stroke="#000" stroke-width="1.0"/>
<line x1="213.25" y1="632.4" x2="213.25" y2="629.4" stroke="#000" stroke-width="1.0"/>
<line x1="234.93" y1="632.4" x2="234.93" y2="630.8" stroke="#000" stroke-width="1.0"/>
<line x1="256.6" y1="632.4" x2="256.6" y2="629.4" stroke="#000" stroke-width="1.0"/>
<text x="80.3" y="637" font-size="14.4" text-anchor="end" fill="#000" stroke="#000" stroke-width="0.3">0.0</text>
<text x="80.3" y="611.16" font-size="14.4" text-anchor="end" fill="#000" stroke="#000" stroke-width="0.3">0.2</text>
<text x="80.3" y="585.32" font-size="14.4" text-anchor="end" fill="#000" stroke="#000" stroke-width="0.3">0.4</text>
<text x="80.3" y="559.48" font-size="14.4" text-anchor="end" fill="#000" stroke="#000" stroke-width="0.3">0.6</text>
<text x="80.3" y="533.64" font-size="14.4" text-anchor="end" fill="#000" stroke="#000" stroke-width="0.3">0.8</text>
<text x="80.3" y="507.8" font-size="14.4" text-anchor="end" fill="#000" stroke="#000" stroke-width="0.3">1.0</text>
<text x="83.2" y="647.3" font-size="14" text-anchor="middle" fill="#000" stroke="#000" stroke-width="0.3">0</text>
<text x="126.55" y="647.3" font-size="14" text-anchor="middle" fill="#000" stroke="#000" stroke-width="0.3">20</text>
<text x="169.9" y="647.3" font-size="14" text-anchor="middle" fill="#000" stroke="#000" stroke-width="0.3">40</text>
<text x="213.25" y="647.3" font-size="14" text-anchor="middle" fill="#000" stroke="#000" stroke-width="0.3">60</text>
<text x="256.6" y="647.3" font-size="14" text-anchor="middle" fill="#000" stroke="#000" stroke-width="0.3">80</text>
<text x="170.8" y="662.8" font-size="14.4" text-anchor="middle" fill="#000" stroke="#000" stroke-width="0.3">Time (min)</text>
<text x="55.8" y="567.9" font-size="14.5" text-anchor="middle" fill="#000" stroke="#000" stroke-width="0.3" transform="rotate(-90 55.8 567.9)">Fraction of Looped Molecules</text>
<text x="101.8" y="525.8" font-size="13.4" text-anchor="start" fill="#1A8A2E" stroke="#1A8A2E" stroke-width="0.3">RDH</text>
<text x="101.8" y="541.9" font-size="13.4" text-anchor="start" fill="#F09830" stroke="#F09830" stroke-width="0.3">DNA</text>
<polyline fill="none" stroke="#F0922C" stroke-width="1.6" points="83.2,632.4 84.28,630.67 85.37,628.97 86.45,627.29 87.53,625.64 88.62,624.02 89.7,622.42 90.79,620.85 91.87,619.3 92.95,617.78 94.04,616.28 95.12,614.81 96.21,613.35 97.29,611.92 98.37,610.52 99.46,609.13 100.54,607.77 101.62,606.43 102.71,605.11 103.79,603.81 104.88,602.53 105.96,601.27 107.04,600.03 108.13,598.81 109.21,597.61 110.29,596.43 111.38,595.27 112.46,594.12 113.55,592.99 114.63,591.89 115.71,590.79 116.8,589.72 117.88,588.66 118.96,587.62 120.05,586.6 121.13,585.59 122.22,584.6 123.3,583.62 124.38,582.66 125.47,581.71 126.55,580.78 127.63,579.87 128.72,578.96 129.8,578.08 130.89,577.2 131.97,576.34 133.05,575.49 134.14,574.66 135.22,573.84 136.3,573.03 137.39,572.24 138.47,571.46 139.56,570.69 140.64,569.93 141.72,569.18 142.81,568.45 143.89,567.73 144.97,567.02 146.06,566.32 147.14,565.63 148.23,564.95 149.31,564.28 150.39,563.63 151.48,562.98 152.56,562.34 153.64,561.72 154.73,561.1 155.81,560.5 156.9,559.9 157.98,559.31 159.06,558.73 160.15,558.16 161.23,557.6 162.31,557.05 163.4,556.51 164.48,555.97 165.56,555.45 166.65,554.93 167.73,554.42 168.82,553.92 169.9,553.43 170.98,552.94 172.07,552.46 173.15,551.99 174.24,551.53 175.32,551.07 176.4,550.62 177.49,550.18 178.57,549.75 179.65,549.32 180.74,548.9 181.82,548.48 182.91,548.08 183.99,547.67 185.07,547.28 186.16,546.89 187.24,546.51 188.32,546.13 189.41,545.76 190.49,545.39 191.58,545.04 192.66,544.68 193.74,544.33 194.83,543.99 195.91,543.65 196.99,543.32 198.08,543 199.16,542.67 200.25,542.36 201.33,542.05 202.41,541.74 203.5,541.44 204.58,541.14 205.66,540.85 206.75,540.56 207.83,540.28 208.92,540 210,539.72 211.08,539.45 212.17,539.19 213.25,538.93 214.33,538.67 215.42,538.42 216.5,538.17 217.59,537.92 218.67,537.68 219.75,537.44 220.84,537.21 221.92,536.98 223,536.75 224.09,536.53 225.17,536.31 226.25,536.09 227.34,535.88 228.42,535.67 229.51,535.46 230.59,535.26 231.67,535.06 232.76,534.86 233.84,534.67 234.93,534.48 236.01,534.29 237.09,534.11 238.18,533.93 239.26,533.75"/>
<polyline fill="none" stroke="#14912A" stroke-width="1.6" points="83.2,632.4 84.28,629.72 85.37,627.1 86.45,624.55 87.53,622.07 88.62,619.66 89.7,617.3 90.79,615.01 91.87,612.78 92.95,610.6 94.04,608.48 95.12,606.42 96.21,604.41 97.29,602.45 98.37,600.55 99.46,598.69 100.54,596.88 101.62,595.12 102.71,593.4 103.79,591.73 104.88,590.1 105.96,588.52 107.04,586.97 108.13,585.47 109.21,584 110.29,582.57 111.38,581.18 112.46,579.83 113.55,578.51 114.63,577.23 115.71,575.97 116.8,574.76 117.88,573.57 118.96,572.41 120.05,571.28 121.13,570.19 122.22,569.12 123.3,568.08 124.38,567.06 125.47,566.08 126.55,565.11 127.63,564.18 128.72,563.26 129.8,562.38 130.89,561.51 131.97,560.67 133.05,559.85 134.14,559.05 135.22,558.27 136.3,557.51 137.39,556.77 138.47,556.05 139.56,555.35 140.64,554.66 141.72,554 142.81,553.35 143.89,552.72 144.97,552.1 146.06,551.5 147.14,550.92 148.23,550.35 149.31,549.8 150.39,549.26 151.48,548.73 152.56,548.22 153.64,547.72 154.73,547.24 155.81,546.77 156.9,546.31 157.98,545.86 159.06,545.42 160.15,545 161.23,544.58 162.31,544.18 163.4,543.78 164.48,543.4 165.56,543.03 166.65,542.66 167.73,542.31 168.82,541.97 169.9,541.63 170.98,541.3 172.07,540.99 173.15,540.67 174.24,540.37 175.32,540.08 176.4,539.79 177.49,539.51 178.57,539.24 179.65,538.98 180.74,538.72 181.82,538.47 182.91,538.22 183.99,537.98 185.07,537.75 186.16,537.52 187.24,537.3 188.32,537.09 189.41,536.88 190.49,536.68 191.58,536.48 192.66,536.29 193.74,536.1 194.83,535.91 195.91,535.74 196.99,535.56 198.08,535.39 199.16,535.23 200.25,535.07 201.33,534.91 202.41,534.76 203.5,534.61 204.58,534.46 205.66,534.32 206.75,534.19 207.83,534.05 208.92,533.92 210,533.8 211.08,533.67 212.17,533.55 213.25,533.43 214.33,533.32 215.42,533.21 216.5,533.1 217.59,533 218.67,532.89 219.75,532.79 220.84,532.7 221.92,532.6 223,532.51 224.09,532.42 225.17,532.33 226.25,532.24 227.34,532.16 228.42,532.08 229.51,532 230.59,531.92 231.67,531.85 232.76,531.78 233.84,531.71 234.93,531.64 236.01,531.57 237.09,531.5 238.18,531.44 239.26,531.38"/>
<line x1="91.87" y1="610.44" x2="91.87" y2="618.19" stroke="#F0922C" stroke-width="0.9"/>
<line x1="89.67" y1="610.44" x2="94.07" y2="610.44" stroke="#F0922C" stroke-width="0.9"/>
<line x1="89.67" y1="618.19" x2="94.07" y2="618.19" stroke="#F0922C" stroke-width="0.9"/>
<polygon fill="none" stroke="#F0922C" stroke-width="1.0" points="91.87,611.01 94.47,614.31 91.87,617.61 89.27,614.31"/>
<line x1="100.54" y1="601.39" x2="100.54" y2="609.14" stroke="#F0922C" stroke-width="0.9"/>
<line x1="98.34" y1="601.39" x2="102.74" y2="601.39" stroke="#F0922C" stroke-width="0.9"/>
<line x1="98.34" y1="609.14" x2="102.74" y2="609.14" stroke="#F0922C" stroke-width="0.9"/>
<polygon fill="none" stroke="#F0922C" stroke-width="1.0" points="100.54,601.97 103.14,605.27 100.54,608.57 97.94,605.27"/>
<line x1="109.21" y1="594.67" x2="109.21" y2="602.43" stroke="#F0922C" stroke-width="0.9"/>
<line x1="107.01" y1="594.67" x2="111.41" y2="594.67" stroke="#F0922C" stroke-width="0.9"/>
<line x1="107.01" y1="602.43" x2="111.41" y2="602.43" stroke="#F0922C" stroke-width="0.9"/>
<polygon fill="none" stroke="#F0922C" stroke-width="1.0" points="109.21,595.25 111.81,598.55 109.21,601.85 106.61,598.55"/>
<line x1="117.88" y1="583.3" x2="117.88" y2="591.06" stroke="#F0922C" stroke-width="0.9"/>
<line x1="115.68" y1="583.3" x2="120.08" y2="583.3" stroke="#F0922C" stroke-width="0.9"/>
<line x1="115.68" y1="591.06" x2="120.08" y2="591.06" stroke="#F0922C" stroke-width="0.9"/>
<polygon fill="none" stroke="#F0922C" stroke-width="1.0" points="117.88,583.88 120.48,587.18 117.88,590.48 115.28,587.18"/>
<line x1="135.22" y1="568.83" x2="135.22" y2="576.59" stroke="#F0922C" stroke-width="0.9"/>
<line x1="133.02" y1="568.83" x2="137.42" y2="568.83" stroke="#F0922C" stroke-width="0.9"/>
<line x1="133.02" y1="576.59" x2="137.42" y2="576.59" stroke="#F0922C" stroke-width="0.9"/>
<polygon fill="none" stroke="#F0922C" stroke-width="1.0" points="135.22,569.41 137.82,572.71 135.22,576.01 132.62,572.71"/>
<line x1="152.56" y1="558.11" x2="152.56" y2="567.15" stroke="#F0922C" stroke-width="0.9"/>
<line x1="150.36" y1="558.11" x2="154.76" y2="558.11" stroke="#F0922C" stroke-width="0.9"/>
<line x1="150.36" y1="567.15" x2="154.76" y2="567.15" stroke="#F0922C" stroke-width="0.9"/>
<polygon fill="none" stroke="#F0922C" stroke-width="1.0" points="152.56,559.33 155.16,562.63 152.56,565.93 149.96,562.63"/>
<line x1="169.9" y1="549.2" x2="169.9" y2="556.95" stroke="#F0922C" stroke-width="0.9"/>
<line x1="167.7" y1="549.2" x2="172.1" y2="549.2" stroke="#F0922C" stroke-width="0.9"/>
<line x1="167.7" y1="556.95" x2="172.1" y2="556.95" stroke="#F0922C" stroke-width="0.9"/>
<polygon fill="none" stroke="#F0922C" stroke-width="1.0" points="169.9,549.77 172.5,553.07 169.9,556.37 167.3,553.07"/>
<line x1="204.58" y1="537.05" x2="204.58" y2="543.51" stroke="#F0922C" stroke-width="0.9"/>
<line x1="202.38" y1="537.05" x2="206.78" y2="537.05" stroke="#F0922C" stroke-width="0.9"/>
<line x1="202.38" y1="543.51" x2="206.78" y2="543.51" stroke="#F0922C" stroke-width="0.9"/>
<polygon fill="none" stroke="#F0922C" stroke-width="1.0" points="204.58,536.98 207.18,540.28 204.58,543.58 201.98,540.28"/>
<line x1="239.26" y1="529.3" x2="239.26" y2="538.34" stroke="#F0922C" stroke-width="0.9"/>
<line x1="237.06" y1="529.3" x2="241.46" y2="529.3" stroke="#F0922C" stroke-width="0.9"/>
<line x1="237.06" y1="538.34" x2="241.46" y2="538.34" stroke="#F0922C" stroke-width="0.9"/>
<polygon fill="none" stroke="#F0922C" stroke-width="1.0" points="239.26,530.52 241.86,533.82 239.26,537.12 236.66,533.82"/>
<line x1="91.87" y1="609.79" x2="91.87" y2="617.54" stroke="#14912A" stroke-width="0.9"/>
<line x1="89.67" y1="609.79" x2="94.07" y2="609.79" stroke="#14912A" stroke-width="0.9"/>
<line x1="89.67" y1="617.54" x2="94.07" y2="617.54" stroke="#14912A" stroke-width="0.9"/>
<polygon fill="none" stroke="#14912A" stroke-width="1.0" points="91.87,610.47 94.87,615.87 88.87,615.87"/>
<line x1="100.54" y1="587.18" x2="100.54" y2="601.39" stroke="#14912A" stroke-width="0.9"/>
<line x1="98.34" y1="587.18" x2="102.74" y2="587.18" stroke="#14912A" stroke-width="0.9"/>
<line x1="98.34" y1="601.39" x2="102.74" y2="601.39" stroke="#14912A" stroke-width="0.9"/>
<polygon fill="none" stroke="#14912A" stroke-width="1.0" points="100.54,591.09 103.54,596.49 97.54,596.49"/>
<line x1="109.21" y1="580.72" x2="109.21" y2="592.35" stroke="#14912A" stroke-width="0.9"/>
<line x1="107.01" y1="580.72" x2="111.41" y2="580.72" stroke="#14912A" stroke-width="0.9"/>
<line x1="107.01" y1="592.35" x2="111.41" y2="592.35" stroke="#14912A" stroke-width="0.9"/>
<polygon fill="none" stroke="#14912A" stroke-width="1.0" points="109.21,583.33 112.21,588.73 106.21,588.73"/>
<line x1="117.88" y1="571.68" x2="117.88" y2="580.72" stroke="#14912A" stroke-width="0.9"/>
<line x1="115.68" y1="571.68" x2="120.08" y2="571.68" stroke="#14912A" stroke-width="0.9"/>
<line x1="115.68" y1="580.72" x2="120.08" y2="580.72" stroke="#14912A" stroke-width="0.9"/>
<polygon fill="none" stroke="#14912A" stroke-width="1.0" points="117.88,573 120.88,578.4 114.88,578.4"/>
<line x1="135.22" y1="553.98" x2="135.22" y2="565.6" stroke="#14912A" stroke-width="0.9"/>
<line x1="133.02" y1="553.98" x2="137.42" y2="553.98" stroke="#14912A" stroke-width="0.9"/>
<line x1="133.02" y1="565.6" x2="137.42" y2="565.6" stroke="#14912A" stroke-width="0.9"/>
<polygon fill="none" stroke="#14912A" stroke-width="1.0" points="135.22,556.59 138.22,561.99 132.22,561.99"/>
<line x1="152.56" y1="552.3" x2="152.56" y2="557.46" stroke="#14912A" stroke-width="0.9"/>
<line x1="150.36" y1="552.3" x2="154.76" y2="552.3" stroke="#14912A" stroke-width="0.9"/>
<line x1="150.36" y1="557.46" x2="154.76" y2="557.46" stroke="#14912A" stroke-width="0.9"/>
<polygon fill="none" stroke="#14912A" stroke-width="1.0" points="152.56,551.68 155.56,557.08 149.56,557.08"/>
<line x1="169.9" y1="537.44" x2="169.9" y2="547.77" stroke="#14912A" stroke-width="0.9"/>
<line x1="167.7" y1="537.44" x2="172.1" y2="537.44" stroke="#14912A" stroke-width="0.9"/>
<line x1="167.7" y1="547.77" x2="172.1" y2="547.77" stroke="#14912A" stroke-width="0.9"/>
<polygon fill="none" stroke="#14912A" stroke-width="1.0" points="169.9,539.41 172.9,544.81 166.9,544.81"/>
<line x1="204.58" y1="528.39" x2="204.58" y2="537.44" stroke="#14912A" stroke-width="0.9"/>
<line x1="202.38" y1="528.39" x2="206.78" y2="528.39" stroke="#14912A" stroke-width="0.9"/>
<line x1="202.38" y1="537.44" x2="206.78" y2="537.44" stroke="#14912A" stroke-width="0.9"/>
<polygon fill="none" stroke="#14912A" stroke-width="1.0" points="204.58,529.72 207.58,535.12 201.58,535.12"/>
<line x1="239.26" y1="525.42" x2="239.26" y2="538.34" stroke="#14912A" stroke-width="0.9"/>
<line x1="237.06" y1="525.42" x2="241.46" y2="525.42" stroke="#14912A" stroke-width="0.9"/>
<line x1="237.06" y1="538.34" x2="241.46" y2="538.34" stroke="#14912A" stroke-width="0.9"/>
<polygon fill="none" stroke="#14912A" stroke-width="1.0" points="239.26,528.68 242.26,534.08 236.26,534.08"/>
<rect x="83.2" y="503.2" width="173.4" height="129.2" fill="none" stroke="#000" stroke-width="1.3"/>
<line x1="354.6" y1="632.4" x2="357.6" y2="632.4" stroke="#000" stroke-width="1.0"/>
<line x1="354.6" y1="616.23" x2="356.2" y2="616.23" stroke="#000" stroke-width="1.0"/>
<line x1="354.6" y1="600.05" x2="357.6" y2="600.05" stroke="#000" stroke-width="1.0"/>
<line x1="354.6" y1="583.88" x2="356.2" y2="583.88" stroke="#000" stroke-width="1.0"/>
<line x1="354.6" y1="567.7" x2="357.6" y2="567.7" stroke="#000" stroke-width="1.0"/>
<line x1="354.6" y1="551.52" x2="356.2" y2="551.52" stroke="#000" stroke-width="1.0"/>
<line x1="354.6" y1="535.35" x2="357.6" y2="535.35" stroke="#000" stroke-width="1.0"/>
<line x1="354.6" y1="519.17" x2="356.2" y2="519.17" stroke="#000" stroke-width="1.0"/>
<line x1="354.6" y1="503" x2="357.6" y2="503" stroke="#000" stroke-width="1.0"/>
<text x="351.6" y="636.7" font-size="14.2" text-anchor="end" fill="#000" stroke="#000" stroke-width="0.3">0</text>
<text x="351.6" y="604.35" font-size="14.2" text-anchor="end" fill="#000" stroke="#000" stroke-width="0.3">10</text>
<text x="351.6" y="572" font-size="14.2" text-anchor="end" fill="#000" stroke="#000" stroke-width="0.3">20</text>
<text x="351.6" y="539.65" font-size="14.2" text-anchor="end" fill="#000" stroke="#000" stroke-width="0.3">30</text>
<text x="351.6" y="507.3" font-size="14.2" text-anchor="end" fill="#000" stroke="#000" stroke-width="0.3">40</text>
<rect x="380.4" y="530.5" width="34.5" height="101.9" fill="#FF8300" stroke="#1a0800" stroke-width="1.3"/>
<line x1="397.65" y1="521.76" x2="397.65" y2="539.23" stroke="#111" stroke-width="1.1"/>
<line x1="394.15" y1="521.76" x2="401.15" y2="521.76" stroke="#111" stroke-width="1.1"/>
<line x1="394.15" y1="539.23" x2="401.15" y2="539.23" stroke="#111" stroke-width="1.1"/>
<rect x="466.2" y="566.41" width="34.9" height="65.99" fill="#008000" stroke="#1a0800" stroke-width="1.3"/>
<line x1="483.65" y1="561.88" x2="483.65" y2="570.93" stroke="#111" stroke-width="1.1"/>
<line x1="480.15" y1="561.88" x2="487.15" y2="561.88" stroke="#111" stroke-width="1.1"/>
<line x1="480.15" y1="570.93" x2="487.15" y2="570.93" stroke="#111" stroke-width="1.1"/>
<line x1="397.6" y1="632.4" x2="397.6" y2="629.9" stroke="#000" stroke-width="1.0"/>
<line x1="440.8" y1="632.4" x2="440.8" y2="629.9" stroke="#000" stroke-width="1.0"/>
<line x1="483.6" y1="632.4" x2="483.6" y2="629.9" stroke="#000" stroke-width="1.0"/>
<text x="397.8" y="647" font-size="14" text-anchor="middle" fill="#000" stroke="#000" stroke-width="0.3">DNA</text>
<text x="483.8" y="647" font-size="14" text-anchor="middle" fill="#000" stroke="#000" stroke-width="0.3">RDH</text>
<text x="331.2" y="567.6" font-size="14.7" text-anchor="middle" fill="#000" stroke="#000" stroke-width="0.3" transform="rotate(-90 331.2 567.6)">Looping Time (min)</text>
<rect x="354.6" y="503" width="172.4" height="129.4" fill="none" stroke="#000" stroke-width="1.3"/>
</svg>
</body></html>
